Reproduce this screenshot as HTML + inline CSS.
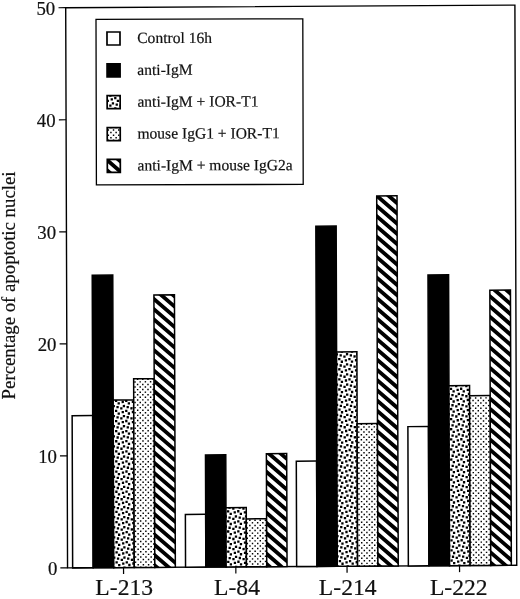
<!DOCTYPE html>
<html><head><meta charset="utf-8"><title>Figure</title>
<style>
html,body{margin:0;padding:0;background:#fff;}
body{width:520px;height:599px;overflow:hidden;}
svg{display:block;}
text{font-family:"Liberation Serif","Times New Roman",serif;fill:#111;stroke:#111;stroke-width:0.2px;}
</style></head><body>
<svg width="520" height="599" viewBox="0 0 520 599">
<defs>
<clipPath id="c1"><rect x="71.1" y="416" width="20.54" height="152.2"/></clipPath>
<clipPath id="c2"><rect x="91.64" y="275.6" width="20.54" height="292.6"/></clipPath>
<clipPath id="c3"><rect x="112.18" y="400.6" width="20.54" height="167.6"/></clipPath>
<clipPath id="c4"><rect x="132.72" y="379.45" width="20.54" height="188.75"/></clipPath>
<clipPath id="c5"><rect x="153.26" y="295.8" width="20.54" height="272.4"/></clipPath>
<clipPath id="c6"><rect x="184" y="515.4" width="20.3" height="52.8"/></clipPath>
<clipPath id="c7"><rect x="204.3" y="456" width="20.3" height="112.2"/></clipPath>
<clipPath id="c8"><rect x="224.6" y="508.9" width="20.3" height="59.3"/></clipPath>
<clipPath id="c9"><rect x="244.9" y="520.25" width="20.3" height="47.95"/></clipPath>
<clipPath id="c10"><rect x="265.2" y="455.1" width="20.3" height="113.1"/></clipPath>
<clipPath id="c11"><rect x="295.1" y="462.8" width="20.32" height="105.4"/></clipPath>
<clipPath id="c12"><rect x="315.42" y="227.9" width="20.32" height="340.3"/></clipPath>
<clipPath id="c13"><rect x="335.74" y="353.8" width="20.32" height="214.4"/></clipPath>
<clipPath id="c14"><rect x="356.06" y="425.65" width="20.32" height="142.55"/></clipPath>
<clipPath id="c15"><rect x="376.38" y="198" width="20.32" height="370.2"/></clipPath>
<clipPath id="c16"><rect x="406.8" y="428.9" width="20.6" height="139.3"/></clipPath>
<clipPath id="c17"><rect x="427.4" y="277.3" width="20.6" height="290.9"/></clipPath>
<clipPath id="c18"><rect x="448" y="388.2" width="20.6" height="180"/></clipPath>
<clipPath id="c19"><rect x="468.6" y="398.3" width="20.6" height="169.9"/></clipPath>
<clipPath id="c20"><rect x="489.2" y="292.9" width="20.6" height="275.3"/></clipPath>
<clipPath id="c21"><rect x="106.95" y="32.24" width="13" height="13"/></clipPath>
<clipPath id="c22"><rect x="106.95" y="64.09" width="13" height="13"/></clipPath>
<clipPath id="c23"><rect x="106.95" y="95.94" width="13" height="13"/></clipPath>
<clipPath id="c24"><rect x="106.95" y="127.79" width="13" height="13"/></clipPath>
<clipPath id="c25"><rect x="106.95" y="159.64" width="13" height="13"/></clipPath>
</defs>
<rect width="520" height="599" fill="#fff"/>
<g transform="matrix(1,-0.0058,0.0033,1,-0.326,0.083)">
<rect x="66" y="8.0" width="449.2" height="560.2" fill="none" stroke="#000" stroke-width="1.4"/>
<rect x="71.1" y="416" width="20.54" height="152.2" fill="#fff" stroke="#000" stroke-width="1.5"/>
<rect x="91.64" y="275.6" width="20.54" height="292.6" fill="#000" stroke="#000" stroke-width="1.5"/>
<rect x="112.18" y="400.6" width="20.54" height="167.6" fill="#fff"/>
<path clip-path="url(#c3)" fill="#000" d="M110.44 401.45h2.3v2.3h-2.3zM111.6 405.5h2.3v2.3h-2.3zM113.95 400.3h2.3v2.3h-2.3zM120.59 401.45h2.3v2.3h-2.3zM116.55 402.9h2.3v2.3h-2.3zM121.75 405.5h2.3v2.3h-2.3zM115.39 406.65h2.3v2.3h-2.3zM119.15 407.8h2.3v2.3h-2.3zM124.1 400.3h2.3v2.3h-2.3zM130.74 401.45h2.3v2.3h-2.3zM126.7 402.9h2.3v2.3h-2.3zM131.9 405.5h2.3v2.3h-2.3zM125.54 406.65h2.3v2.3h-2.3zM129.3 407.8h2.3v2.3h-2.3zM110.44 411.55h2.3v2.3h-2.3zM111.6 415.6h2.3v2.3h-2.3zM113.95 410.4h2.3v2.3h-2.3zM120.59 411.55h2.3v2.3h-2.3zM116.55 413h2.3v2.3h-2.3zM121.75 415.6h2.3v2.3h-2.3zM115.39 416.75h2.3v2.3h-2.3zM119.15 417.9h2.3v2.3h-2.3zM124.1 410.4h2.3v2.3h-2.3zM130.74 411.55h2.3v2.3h-2.3zM126.7 413h2.3v2.3h-2.3zM131.9 415.6h2.3v2.3h-2.3zM125.54 416.75h2.3v2.3h-2.3zM129.3 417.9h2.3v2.3h-2.3zM110.44 421.65h2.3v2.3h-2.3zM111.6 425.7h2.3v2.3h-2.3zM113.95 420.5h2.3v2.3h-2.3zM120.59 421.65h2.3v2.3h-2.3zM116.55 423.1h2.3v2.3h-2.3zM121.75 425.7h2.3v2.3h-2.3zM115.39 426.85h2.3v2.3h-2.3zM119.15 428h2.3v2.3h-2.3zM124.1 420.5h2.3v2.3h-2.3zM130.74 421.65h2.3v2.3h-2.3zM126.7 423.1h2.3v2.3h-2.3zM131.9 425.7h2.3v2.3h-2.3zM125.54 426.85h2.3v2.3h-2.3zM129.3 428h2.3v2.3h-2.3zM110.44 431.75h2.3v2.3h-2.3zM111.6 435.8h2.3v2.3h-2.3zM113.95 430.6h2.3v2.3h-2.3zM120.59 431.75h2.3v2.3h-2.3zM116.55 433.2h2.3v2.3h-2.3zM121.75 435.8h2.3v2.3h-2.3zM115.39 436.95h2.3v2.3h-2.3zM119.15 438.1h2.3v2.3h-2.3zM124.1 430.6h2.3v2.3h-2.3zM130.74 431.75h2.3v2.3h-2.3zM126.7 433.2h2.3v2.3h-2.3zM131.9 435.8h2.3v2.3h-2.3zM125.54 436.95h2.3v2.3h-2.3zM129.3 438.1h2.3v2.3h-2.3zM110.44 441.85h2.3v2.3h-2.3zM111.6 445.9h2.3v2.3h-2.3zM113.95 440.7h2.3v2.3h-2.3zM120.59 441.85h2.3v2.3h-2.3zM116.55 443.3h2.3v2.3h-2.3zM121.75 445.9h2.3v2.3h-2.3zM115.39 447.05h2.3v2.3h-2.3zM119.15 448.2h2.3v2.3h-2.3zM124.1 440.7h2.3v2.3h-2.3zM130.74 441.85h2.3v2.3h-2.3zM126.7 443.3h2.3v2.3h-2.3zM131.9 445.9h2.3v2.3h-2.3zM125.54 447.05h2.3v2.3h-2.3zM129.3 448.2h2.3v2.3h-2.3zM110.44 451.95h2.3v2.3h-2.3zM111.6 456h2.3v2.3h-2.3zM113.95 450.8h2.3v2.3h-2.3zM120.59 451.95h2.3v2.3h-2.3zM116.55 453.4h2.3v2.3h-2.3zM121.75 456h2.3v2.3h-2.3zM115.39 457.15h2.3v2.3h-2.3zM119.15 458.3h2.3v2.3h-2.3zM124.1 450.8h2.3v2.3h-2.3zM130.74 451.95h2.3v2.3h-2.3zM126.7 453.4h2.3v2.3h-2.3zM131.9 456h2.3v2.3h-2.3zM125.54 457.15h2.3v2.3h-2.3zM129.3 458.3h2.3v2.3h-2.3zM110.44 462.05h2.3v2.3h-2.3zM111.6 466.1h2.3v2.3h-2.3zM113.95 460.9h2.3v2.3h-2.3zM120.59 462.05h2.3v2.3h-2.3zM116.55 463.5h2.3v2.3h-2.3zM121.75 466.1h2.3v2.3h-2.3zM115.39 467.25h2.3v2.3h-2.3zM119.15 468.4h2.3v2.3h-2.3zM124.1 460.9h2.3v2.3h-2.3zM130.74 462.05h2.3v2.3h-2.3zM126.7 463.5h2.3v2.3h-2.3zM131.9 466.1h2.3v2.3h-2.3zM125.54 467.25h2.3v2.3h-2.3zM129.3 468.4h2.3v2.3h-2.3zM110.44 472.15h2.3v2.3h-2.3zM111.6 476.2h2.3v2.3h-2.3zM113.95 471h2.3v2.3h-2.3zM120.59 472.15h2.3v2.3h-2.3zM116.55 473.6h2.3v2.3h-2.3zM121.75 476.2h2.3v2.3h-2.3zM115.39 477.35h2.3v2.3h-2.3zM119.15 478.5h2.3v2.3h-2.3zM124.1 471h2.3v2.3h-2.3zM130.74 472.15h2.3v2.3h-2.3zM126.7 473.6h2.3v2.3h-2.3zM131.9 476.2h2.3v2.3h-2.3zM125.54 477.35h2.3v2.3h-2.3zM129.3 478.5h2.3v2.3h-2.3zM110.44 482.25h2.3v2.3h-2.3zM111.6 486.3h2.3v2.3h-2.3zM113.95 481.1h2.3v2.3h-2.3zM120.59 482.25h2.3v2.3h-2.3zM116.55 483.7h2.3v2.3h-2.3zM121.75 486.3h2.3v2.3h-2.3zM115.39 487.45h2.3v2.3h-2.3zM119.15 488.6h2.3v2.3h-2.3zM124.1 481.1h2.3v2.3h-2.3zM130.74 482.25h2.3v2.3h-2.3zM126.7 483.7h2.3v2.3h-2.3zM131.9 486.3h2.3v2.3h-2.3zM125.54 487.45h2.3v2.3h-2.3zM129.3 488.6h2.3v2.3h-2.3zM110.44 492.35h2.3v2.3h-2.3zM111.6 496.4h2.3v2.3h-2.3zM113.95 491.2h2.3v2.3h-2.3zM120.59 492.35h2.3v2.3h-2.3zM116.55 493.8h2.3v2.3h-2.3zM121.75 496.4h2.3v2.3h-2.3zM115.39 497.55h2.3v2.3h-2.3zM119.15 498.7h2.3v2.3h-2.3zM124.1 491.2h2.3v2.3h-2.3zM130.74 492.35h2.3v2.3h-2.3zM126.7 493.8h2.3v2.3h-2.3zM131.9 496.4h2.3v2.3h-2.3zM125.54 497.55h2.3v2.3h-2.3zM129.3 498.7h2.3v2.3h-2.3zM110.44 502.45h2.3v2.3h-2.3zM111.6 506.5h2.3v2.3h-2.3zM113.95 501.3h2.3v2.3h-2.3zM120.59 502.45h2.3v2.3h-2.3zM116.55 503.9h2.3v2.3h-2.3zM121.75 506.5h2.3v2.3h-2.3zM115.39 507.65h2.3v2.3h-2.3zM119.15 508.8h2.3v2.3h-2.3zM124.1 501.3h2.3v2.3h-2.3zM130.74 502.45h2.3v2.3h-2.3zM126.7 503.9h2.3v2.3h-2.3zM131.9 506.5h2.3v2.3h-2.3zM125.54 507.65h2.3v2.3h-2.3zM129.3 508.8h2.3v2.3h-2.3zM110.44 512.55h2.3v2.3h-2.3zM111.6 516.6h2.3v2.3h-2.3zM113.95 511.4h2.3v2.3h-2.3zM120.59 512.55h2.3v2.3h-2.3zM116.55 514h2.3v2.3h-2.3zM121.75 516.6h2.3v2.3h-2.3zM115.39 517.75h2.3v2.3h-2.3zM119.15 518.9h2.3v2.3h-2.3zM124.1 511.4h2.3v2.3h-2.3zM130.74 512.55h2.3v2.3h-2.3zM126.7 514h2.3v2.3h-2.3zM131.9 516.6h2.3v2.3h-2.3zM125.54 517.75h2.3v2.3h-2.3zM129.3 518.9h2.3v2.3h-2.3zM110.44 522.65h2.3v2.3h-2.3zM111.6 526.7h2.3v2.3h-2.3zM113.95 521.5h2.3v2.3h-2.3zM120.59 522.65h2.3v2.3h-2.3zM116.55 524.1h2.3v2.3h-2.3zM121.75 526.7h2.3v2.3h-2.3zM115.39 527.85h2.3v2.3h-2.3zM119.15 529h2.3v2.3h-2.3zM124.1 521.5h2.3v2.3h-2.3zM130.74 522.65h2.3v2.3h-2.3zM126.7 524.1h2.3v2.3h-2.3zM131.9 526.7h2.3v2.3h-2.3zM125.54 527.85h2.3v2.3h-2.3zM129.3 529h2.3v2.3h-2.3zM110.44 532.75h2.3v2.3h-2.3zM111.6 536.8h2.3v2.3h-2.3zM113.95 531.6h2.3v2.3h-2.3zM120.59 532.75h2.3v2.3h-2.3zM116.55 534.2h2.3v2.3h-2.3zM121.75 536.8h2.3v2.3h-2.3zM115.39 537.95h2.3v2.3h-2.3zM119.15 539.1h2.3v2.3h-2.3zM124.1 531.6h2.3v2.3h-2.3zM130.74 532.75h2.3v2.3h-2.3zM126.7 534.2h2.3v2.3h-2.3zM131.9 536.8h2.3v2.3h-2.3zM125.54 537.95h2.3v2.3h-2.3zM129.3 539.1h2.3v2.3h-2.3zM110.44 542.85h2.3v2.3h-2.3zM111.6 546.9h2.3v2.3h-2.3zM113.95 541.7h2.3v2.3h-2.3zM120.59 542.85h2.3v2.3h-2.3zM116.55 544.3h2.3v2.3h-2.3zM121.75 546.9h2.3v2.3h-2.3zM115.39 548.05h2.3v2.3h-2.3zM119.15 549.2h2.3v2.3h-2.3zM124.1 541.7h2.3v2.3h-2.3zM130.74 542.85h2.3v2.3h-2.3zM126.7 544.3h2.3v2.3h-2.3zM131.9 546.9h2.3v2.3h-2.3zM125.54 548.05h2.3v2.3h-2.3zM129.3 549.2h2.3v2.3h-2.3zM110.44 552.95h2.3v2.3h-2.3zM111.6 557h2.3v2.3h-2.3zM113.95 551.8h2.3v2.3h-2.3zM120.59 552.95h2.3v2.3h-2.3zM116.55 554.4h2.3v2.3h-2.3zM121.75 557h2.3v2.3h-2.3zM115.39 558.15h2.3v2.3h-2.3zM119.15 559.3h2.3v2.3h-2.3zM124.1 551.8h2.3v2.3h-2.3zM130.74 552.95h2.3v2.3h-2.3zM126.7 554.4h2.3v2.3h-2.3zM131.9 557h2.3v2.3h-2.3zM125.54 558.15h2.3v2.3h-2.3zM129.3 559.3h2.3v2.3h-2.3zM110.44 563.05h2.3v2.3h-2.3zM111.6 567.1h2.3v2.3h-2.3zM113.95 561.9h2.3v2.3h-2.3zM120.59 563.05h2.3v2.3h-2.3zM116.55 564.5h2.3v2.3h-2.3zM121.75 567.1h2.3v2.3h-2.3zM124.1 561.9h2.3v2.3h-2.3zM130.74 563.05h2.3v2.3h-2.3zM126.7 564.5h2.3v2.3h-2.3zM131.9 567.1h2.3v2.3h-2.3z"/>
<rect x="112.18" y="400.6" width="20.54" height="167.6" fill="none" stroke="#000" stroke-width="1.5"/>
<rect x="132.72" y="379.45" width="20.54" height="188.75" fill="#fff"/>
<path clip-path="url(#c4)" fill="#000" d="M135.93 379.3h1.45v1.45h-1.45zM141.12 379.3h1.45v1.45h-1.45zM146.32 379.3h1.45v1.45h-1.45zM151.53 379.3h1.45v1.45h-1.45zM133.33 381.88h1.45v1.45h-1.45zM135.93 384.45h1.45v1.45h-1.45zM138.53 381.88h1.45v1.45h-1.45zM141.12 384.45h1.45v1.45h-1.45zM143.72 381.88h1.45v1.45h-1.45zM146.32 384.45h1.45v1.45h-1.45zM148.93 381.88h1.45v1.45h-1.45zM151.53 384.45h1.45v1.45h-1.45zM133.33 387.02h1.45v1.45h-1.45zM135.93 389.6h1.45v1.45h-1.45zM138.53 387.02h1.45v1.45h-1.45zM141.12 389.6h1.45v1.45h-1.45zM143.72 387.02h1.45v1.45h-1.45zM146.32 389.6h1.45v1.45h-1.45zM148.93 387.02h1.45v1.45h-1.45zM151.53 389.6h1.45v1.45h-1.45zM133.33 392.18h1.45v1.45h-1.45zM135.93 394.75h1.45v1.45h-1.45zM138.53 392.18h1.45v1.45h-1.45zM141.12 394.75h1.45v1.45h-1.45zM143.72 392.18h1.45v1.45h-1.45zM146.32 394.75h1.45v1.45h-1.45zM148.93 392.18h1.45v1.45h-1.45zM151.53 394.75h1.45v1.45h-1.45zM133.33 397.32h1.45v1.45h-1.45zM135.93 399.9h1.45v1.45h-1.45zM138.53 397.32h1.45v1.45h-1.45zM141.12 399.9h1.45v1.45h-1.45zM143.72 397.32h1.45v1.45h-1.45zM146.32 399.9h1.45v1.45h-1.45zM148.93 397.32h1.45v1.45h-1.45zM151.53 399.9h1.45v1.45h-1.45zM133.33 402.48h1.45v1.45h-1.45zM135.93 405.05h1.45v1.45h-1.45zM138.53 402.48h1.45v1.45h-1.45zM141.12 405.05h1.45v1.45h-1.45zM143.72 402.48h1.45v1.45h-1.45zM146.32 405.05h1.45v1.45h-1.45zM148.93 402.48h1.45v1.45h-1.45zM151.53 405.05h1.45v1.45h-1.45zM133.33 407.62h1.45v1.45h-1.45zM135.93 410.2h1.45v1.45h-1.45zM138.53 407.62h1.45v1.45h-1.45zM141.12 410.2h1.45v1.45h-1.45zM143.72 407.62h1.45v1.45h-1.45zM146.32 410.2h1.45v1.45h-1.45zM148.93 407.62h1.45v1.45h-1.45zM151.53 410.2h1.45v1.45h-1.45zM133.33 412.77h1.45v1.45h-1.45zM135.93 415.35h1.45v1.45h-1.45zM138.53 412.77h1.45v1.45h-1.45zM141.12 415.35h1.45v1.45h-1.45zM143.72 412.77h1.45v1.45h-1.45zM146.32 415.35h1.45v1.45h-1.45zM148.93 412.77h1.45v1.45h-1.45zM151.53 415.35h1.45v1.45h-1.45zM133.33 417.93h1.45v1.45h-1.45zM135.93 420.5h1.45v1.45h-1.45zM138.53 417.93h1.45v1.45h-1.45zM141.12 420.5h1.45v1.45h-1.45zM143.72 417.93h1.45v1.45h-1.45zM146.32 420.5h1.45v1.45h-1.45zM148.93 417.93h1.45v1.45h-1.45zM151.53 420.5h1.45v1.45h-1.45zM133.33 423.07h1.45v1.45h-1.45zM135.93 425.65h1.45v1.45h-1.45zM138.53 423.07h1.45v1.45h-1.45zM141.12 425.65h1.45v1.45h-1.45zM143.72 423.07h1.45v1.45h-1.45zM146.32 425.65h1.45v1.45h-1.45zM148.93 423.07h1.45v1.45h-1.45zM151.53 425.65h1.45v1.45h-1.45zM133.33 428.23h1.45v1.45h-1.45zM135.93 430.8h1.45v1.45h-1.45zM138.53 428.23h1.45v1.45h-1.45zM141.12 430.8h1.45v1.45h-1.45zM143.72 428.23h1.45v1.45h-1.45zM146.32 430.8h1.45v1.45h-1.45zM148.93 428.23h1.45v1.45h-1.45zM151.53 430.8h1.45v1.45h-1.45zM133.33 433.38h1.45v1.45h-1.45zM135.93 435.95h1.45v1.45h-1.45zM138.53 433.38h1.45v1.45h-1.45zM141.12 435.95h1.45v1.45h-1.45zM143.72 433.38h1.45v1.45h-1.45zM146.32 435.95h1.45v1.45h-1.45zM148.93 433.38h1.45v1.45h-1.45zM151.53 435.95h1.45v1.45h-1.45zM133.33 438.52h1.45v1.45h-1.45zM135.93 441.1h1.45v1.45h-1.45zM138.53 438.52h1.45v1.45h-1.45zM141.12 441.1h1.45v1.45h-1.45zM143.72 438.52h1.45v1.45h-1.45zM146.32 441.1h1.45v1.45h-1.45zM148.93 438.52h1.45v1.45h-1.45zM151.53 441.1h1.45v1.45h-1.45zM133.33 443.68h1.45v1.45h-1.45zM135.93 446.25h1.45v1.45h-1.45zM138.53 443.68h1.45v1.45h-1.45zM141.12 446.25h1.45v1.45h-1.45zM143.72 443.68h1.45v1.45h-1.45zM146.32 446.25h1.45v1.45h-1.45zM148.93 443.68h1.45v1.45h-1.45zM151.53 446.25h1.45v1.45h-1.45zM133.33 448.82h1.45v1.45h-1.45zM135.93 451.4h1.45v1.45h-1.45zM138.53 448.82h1.45v1.45h-1.45zM141.12 451.4h1.45v1.45h-1.45zM143.72 448.82h1.45v1.45h-1.45zM146.32 451.4h1.45v1.45h-1.45zM148.93 448.82h1.45v1.45h-1.45zM151.53 451.4h1.45v1.45h-1.45zM133.33 453.98h1.45v1.45h-1.45zM135.93 456.55h1.45v1.45h-1.45zM138.53 453.98h1.45v1.45h-1.45zM141.12 456.55h1.45v1.45h-1.45zM143.72 453.98h1.45v1.45h-1.45zM146.32 456.55h1.45v1.45h-1.45zM148.93 453.98h1.45v1.45h-1.45zM151.53 456.55h1.45v1.45h-1.45zM133.33 459.12h1.45v1.45h-1.45zM135.93 461.7h1.45v1.45h-1.45zM138.53 459.12h1.45v1.45h-1.45zM141.12 461.7h1.45v1.45h-1.45zM143.72 459.12h1.45v1.45h-1.45zM146.32 461.7h1.45v1.45h-1.45zM148.93 459.12h1.45v1.45h-1.45zM151.53 461.7h1.45v1.45h-1.45zM133.33 464.27h1.45v1.45h-1.45zM135.93 466.85h1.45v1.45h-1.45zM138.53 464.27h1.45v1.45h-1.45zM141.12 466.85h1.45v1.45h-1.45zM143.72 464.27h1.45v1.45h-1.45zM146.32 466.85h1.45v1.45h-1.45zM148.93 464.27h1.45v1.45h-1.45zM151.53 466.85h1.45v1.45h-1.45zM133.33 469.43h1.45v1.45h-1.45zM135.93 472h1.45v1.45h-1.45zM138.53 469.43h1.45v1.45h-1.45zM141.12 472h1.45v1.45h-1.45zM143.72 469.43h1.45v1.45h-1.45zM146.32 472h1.45v1.45h-1.45zM148.93 469.43h1.45v1.45h-1.45zM151.53 472h1.45v1.45h-1.45zM133.33 474.57h1.45v1.45h-1.45zM135.93 477.15h1.45v1.45h-1.45zM138.53 474.57h1.45v1.45h-1.45zM141.12 477.15h1.45v1.45h-1.45zM143.72 474.57h1.45v1.45h-1.45zM146.32 477.15h1.45v1.45h-1.45zM148.93 474.57h1.45v1.45h-1.45zM151.53 477.15h1.45v1.45h-1.45zM133.33 479.73h1.45v1.45h-1.45zM135.93 482.3h1.45v1.45h-1.45zM138.53 479.73h1.45v1.45h-1.45zM141.12 482.3h1.45v1.45h-1.45zM143.72 479.73h1.45v1.45h-1.45zM146.32 482.3h1.45v1.45h-1.45zM148.93 479.73h1.45v1.45h-1.45zM151.53 482.3h1.45v1.45h-1.45zM133.33 484.88h1.45v1.45h-1.45zM135.93 487.45h1.45v1.45h-1.45zM138.53 484.88h1.45v1.45h-1.45zM141.12 487.45h1.45v1.45h-1.45zM143.72 484.88h1.45v1.45h-1.45zM146.32 487.45h1.45v1.45h-1.45zM148.93 484.88h1.45v1.45h-1.45zM151.53 487.45h1.45v1.45h-1.45zM133.33 490.02h1.45v1.45h-1.45zM135.93 492.6h1.45v1.45h-1.45zM138.53 490.02h1.45v1.45h-1.45zM141.12 492.6h1.45v1.45h-1.45zM143.72 490.02h1.45v1.45h-1.45zM146.32 492.6h1.45v1.45h-1.45zM148.93 490.02h1.45v1.45h-1.45zM151.53 492.6h1.45v1.45h-1.45zM133.33 495.18h1.45v1.45h-1.45zM135.93 497.75h1.45v1.45h-1.45zM138.53 495.18h1.45v1.45h-1.45zM141.12 497.75h1.45v1.45h-1.45zM143.72 495.18h1.45v1.45h-1.45zM146.32 497.75h1.45v1.45h-1.45zM148.93 495.18h1.45v1.45h-1.45zM151.53 497.75h1.45v1.45h-1.45zM133.33 500.32h1.45v1.45h-1.45zM135.93 502.9h1.45v1.45h-1.45zM138.53 500.32h1.45v1.45h-1.45zM141.12 502.9h1.45v1.45h-1.45zM143.72 500.32h1.45v1.45h-1.45zM146.32 502.9h1.45v1.45h-1.45zM148.93 500.32h1.45v1.45h-1.45zM151.53 502.9h1.45v1.45h-1.45zM133.33 505.48h1.45v1.45h-1.45zM135.93 508.05h1.45v1.45h-1.45zM138.53 505.48h1.45v1.45h-1.45zM141.12 508.05h1.45v1.45h-1.45zM143.72 505.48h1.45v1.45h-1.45zM146.32 508.05h1.45v1.45h-1.45zM148.93 505.48h1.45v1.45h-1.45zM151.53 508.05h1.45v1.45h-1.45zM133.33 510.62h1.45v1.45h-1.45zM135.93 513.2h1.45v1.45h-1.45zM138.53 510.62h1.45v1.45h-1.45zM141.12 513.2h1.45v1.45h-1.45zM143.72 510.62h1.45v1.45h-1.45zM146.32 513.2h1.45v1.45h-1.45zM148.93 510.62h1.45v1.45h-1.45zM151.53 513.2h1.45v1.45h-1.45zM133.33 515.77h1.45v1.45h-1.45zM135.93 518.35h1.45v1.45h-1.45zM138.53 515.77h1.45v1.45h-1.45zM141.12 518.35h1.45v1.45h-1.45zM143.72 515.77h1.45v1.45h-1.45zM146.32 518.35h1.45v1.45h-1.45zM148.93 515.77h1.45v1.45h-1.45zM151.53 518.35h1.45v1.45h-1.45zM133.33 520.93h1.45v1.45h-1.45zM135.93 523.5h1.45v1.45h-1.45zM138.53 520.93h1.45v1.45h-1.45zM141.12 523.5h1.45v1.45h-1.45zM143.72 520.93h1.45v1.45h-1.45zM146.32 523.5h1.45v1.45h-1.45zM148.93 520.93h1.45v1.45h-1.45zM151.53 523.5h1.45v1.45h-1.45zM133.33 526.08h1.45v1.45h-1.45zM135.93 528.65h1.45v1.45h-1.45zM138.53 526.08h1.45v1.45h-1.45zM141.12 528.65h1.45v1.45h-1.45zM143.72 526.08h1.45v1.45h-1.45zM146.32 528.65h1.45v1.45h-1.45zM148.93 526.08h1.45v1.45h-1.45zM151.53 528.65h1.45v1.45h-1.45zM133.33 531.23h1.45v1.45h-1.45zM135.93 533.8h1.45v1.45h-1.45zM138.53 531.23h1.45v1.45h-1.45zM141.12 533.8h1.45v1.45h-1.45zM143.72 531.23h1.45v1.45h-1.45zM146.32 533.8h1.45v1.45h-1.45zM148.93 531.23h1.45v1.45h-1.45zM151.53 533.8h1.45v1.45h-1.45zM133.33 536.38h1.45v1.45h-1.45zM135.93 538.95h1.45v1.45h-1.45zM138.53 536.38h1.45v1.45h-1.45zM141.12 538.95h1.45v1.45h-1.45zM143.72 536.38h1.45v1.45h-1.45zM146.32 538.95h1.45v1.45h-1.45zM148.93 536.38h1.45v1.45h-1.45zM151.53 538.95h1.45v1.45h-1.45zM133.33 541.52h1.45v1.45h-1.45zM135.93 544.1h1.45v1.45h-1.45zM138.53 541.52h1.45v1.45h-1.45zM141.12 544.1h1.45v1.45h-1.45zM143.72 541.52h1.45v1.45h-1.45zM146.32 544.1h1.45v1.45h-1.45zM148.93 541.52h1.45v1.45h-1.45zM151.53 544.1h1.45v1.45h-1.45zM133.33 546.68h1.45v1.45h-1.45zM135.93 549.25h1.45v1.45h-1.45zM138.53 546.68h1.45v1.45h-1.45zM141.12 549.25h1.45v1.45h-1.45zM143.72 546.68h1.45v1.45h-1.45zM146.32 549.25h1.45v1.45h-1.45zM148.93 546.68h1.45v1.45h-1.45zM151.53 549.25h1.45v1.45h-1.45zM133.33 551.83h1.45v1.45h-1.45zM135.93 554.4h1.45v1.45h-1.45zM138.53 551.83h1.45v1.45h-1.45zM141.12 554.4h1.45v1.45h-1.45zM143.72 551.83h1.45v1.45h-1.45zM146.32 554.4h1.45v1.45h-1.45zM148.93 551.83h1.45v1.45h-1.45zM151.53 554.4h1.45v1.45h-1.45zM133.33 556.98h1.45v1.45h-1.45zM135.93 559.55h1.45v1.45h-1.45zM138.53 556.98h1.45v1.45h-1.45zM141.12 559.55h1.45v1.45h-1.45zM143.72 556.98h1.45v1.45h-1.45zM146.32 559.55h1.45v1.45h-1.45zM148.93 556.98h1.45v1.45h-1.45zM151.53 559.55h1.45v1.45h-1.45zM133.33 562.12h1.45v1.45h-1.45zM135.93 564.7h1.45v1.45h-1.45zM138.53 562.12h1.45v1.45h-1.45zM141.12 564.7h1.45v1.45h-1.45zM143.72 562.12h1.45v1.45h-1.45zM146.32 564.7h1.45v1.45h-1.45zM148.93 562.12h1.45v1.45h-1.45zM151.53 564.7h1.45v1.45h-1.45zM133.33 567.27h1.45v1.45h-1.45zM138.53 567.27h1.45v1.45h-1.45zM143.72 567.27h1.45v1.45h-1.45zM148.93 567.27h1.45v1.45h-1.45z"/>
<rect x="132.72" y="379.45" width="20.54" height="188.75" fill="none" stroke="#000" stroke-width="1.5"/>
<rect x="153.26" y="295.8" width="20.54" height="272.4" fill="#fff"/>
<path clip-path="url(#c5)" fill="#000" d="M153.26 276.7L173.8 294.68v5.1L153.26 281.8zM153.26 286.95L173.8 304.93v5.1L153.26 292.05zM153.26 297.2L173.8 315.18v5.1L153.26 302.3zM153.26 307.45L173.8 325.43v5.1L153.26 312.55zM153.26 317.7L173.8 335.68v5.1L153.26 322.8zM153.26 327.95L173.8 345.93v5.1L153.26 333.05zM153.26 338.2L173.8 356.18v5.1L153.26 343.3zM153.26 348.45L173.8 366.43v5.1L153.26 353.55zM153.26 358.7L173.8 376.68v5.1L153.26 363.8zM153.26 368.95L173.8 386.93v5.1L153.26 374.05zM153.26 379.2L173.8 397.18v5.1L153.26 384.3zM153.26 389.45L173.8 407.43v5.1L153.26 394.55zM153.26 399.7L173.8 417.68v5.1L153.26 404.8zM153.26 409.95L173.8 427.93v5.1L153.26 415.05zM153.26 420.2L173.8 438.18v5.1L153.26 425.3zM153.26 430.45L173.8 448.43v5.1L153.26 435.55zM153.26 440.7L173.8 458.68v5.1L153.26 445.8zM153.26 450.95L173.8 468.93v5.1L153.26 456.05zM153.26 461.2L173.8 479.18v5.1L153.26 466.3zM153.26 471.45L173.8 489.43v5.1L153.26 476.55zM153.26 481.7L173.8 499.68v5.1L153.26 486.8zM153.26 491.95L173.8 509.93v5.1L153.26 497.05zM153.26 502.2L173.8 520.18v5.1L153.26 507.3zM153.26 512.45L173.8 530.43v5.1L153.26 517.55zM153.26 522.7L173.8 540.68v5.1L153.26 527.8zM153.26 532.95L173.8 550.93v5.1L153.26 538.05zM153.26 543.2L173.8 561.18v5.1L153.26 548.3zM153.26 553.45L173.8 571.43v5.1L153.26 558.55zM153.26 563.7L173.8 581.68v5.1L153.26 568.8z"/>
<rect x="153.26" y="295.8" width="20.54" height="272.4" fill="none" stroke="#000" stroke-width="1.5"/>
<rect x="184" y="515.4" width="20.3" height="52.8" fill="#fff" stroke="#000" stroke-width="1.5"/>
<rect x="204.3" y="456" width="20.3" height="112.2" fill="#000" stroke="#000" stroke-width="1.5"/>
<rect x="224.6" y="508.9" width="20.3" height="59.3" fill="#fff"/>
<path clip-path="url(#c8)" fill="#000" d="M227.04 507.65h2.3v2.3h-2.3zM230.8 508.8h2.3v2.3h-2.3zM237.19 507.65h2.3v2.3h-2.3zM240.95 508.8h2.3v2.3h-2.3zM223.25 516.6h2.3v2.3h-2.3zM225.6 511.4h2.3v2.3h-2.3zM232.24 512.55h2.3v2.3h-2.3zM228.2 514h2.3v2.3h-2.3zM233.4 516.6h2.3v2.3h-2.3zM227.04 517.75h2.3v2.3h-2.3zM230.8 518.9h2.3v2.3h-2.3zM235.75 511.4h2.3v2.3h-2.3zM242.39 512.55h2.3v2.3h-2.3zM238.35 514h2.3v2.3h-2.3zM243.55 516.6h2.3v2.3h-2.3zM237.19 517.75h2.3v2.3h-2.3zM240.95 518.9h2.3v2.3h-2.3zM223.25 526.7h2.3v2.3h-2.3zM225.6 521.5h2.3v2.3h-2.3zM232.24 522.65h2.3v2.3h-2.3zM228.2 524.1h2.3v2.3h-2.3zM233.4 526.7h2.3v2.3h-2.3zM227.04 527.85h2.3v2.3h-2.3zM230.8 529h2.3v2.3h-2.3zM235.75 521.5h2.3v2.3h-2.3zM242.39 522.65h2.3v2.3h-2.3zM238.35 524.1h2.3v2.3h-2.3zM243.55 526.7h2.3v2.3h-2.3zM237.19 527.85h2.3v2.3h-2.3zM240.95 529h2.3v2.3h-2.3zM223.25 536.8h2.3v2.3h-2.3zM225.6 531.6h2.3v2.3h-2.3zM232.24 532.75h2.3v2.3h-2.3zM228.2 534.2h2.3v2.3h-2.3zM233.4 536.8h2.3v2.3h-2.3zM227.04 537.95h2.3v2.3h-2.3zM230.8 539.1h2.3v2.3h-2.3zM235.75 531.6h2.3v2.3h-2.3zM242.39 532.75h2.3v2.3h-2.3zM238.35 534.2h2.3v2.3h-2.3zM243.55 536.8h2.3v2.3h-2.3zM237.19 537.95h2.3v2.3h-2.3zM240.95 539.1h2.3v2.3h-2.3zM223.25 546.9h2.3v2.3h-2.3zM225.6 541.7h2.3v2.3h-2.3zM232.24 542.85h2.3v2.3h-2.3zM228.2 544.3h2.3v2.3h-2.3zM233.4 546.9h2.3v2.3h-2.3zM227.04 548.05h2.3v2.3h-2.3zM230.8 549.2h2.3v2.3h-2.3zM235.75 541.7h2.3v2.3h-2.3zM242.39 542.85h2.3v2.3h-2.3zM238.35 544.3h2.3v2.3h-2.3zM243.55 546.9h2.3v2.3h-2.3zM237.19 548.05h2.3v2.3h-2.3zM240.95 549.2h2.3v2.3h-2.3zM223.25 557h2.3v2.3h-2.3zM225.6 551.8h2.3v2.3h-2.3zM232.24 552.95h2.3v2.3h-2.3zM228.2 554.4h2.3v2.3h-2.3zM233.4 557h2.3v2.3h-2.3zM227.04 558.15h2.3v2.3h-2.3zM230.8 559.3h2.3v2.3h-2.3zM235.75 551.8h2.3v2.3h-2.3zM242.39 552.95h2.3v2.3h-2.3zM238.35 554.4h2.3v2.3h-2.3zM243.55 557h2.3v2.3h-2.3zM237.19 558.15h2.3v2.3h-2.3zM240.95 559.3h2.3v2.3h-2.3zM223.25 567.1h2.3v2.3h-2.3zM225.6 561.9h2.3v2.3h-2.3zM232.24 563.05h2.3v2.3h-2.3zM228.2 564.5h2.3v2.3h-2.3zM233.4 567.1h2.3v2.3h-2.3zM235.75 561.9h2.3v2.3h-2.3zM242.39 563.05h2.3v2.3h-2.3zM238.35 564.5h2.3v2.3h-2.3zM243.55 567.1h2.3v2.3h-2.3z"/>
<rect x="224.6" y="508.9" width="20.3" height="59.3" fill="none" stroke="#000" stroke-width="1.5"/>
<rect x="244.9" y="520.25" width="20.3" height="47.95" fill="#fff"/>
<path clip-path="url(#c9)" fill="#000" d="M245.12 523.5h1.45v1.45h-1.45zM247.72 520.93h1.45v1.45h-1.45zM250.32 523.5h1.45v1.45h-1.45zM252.93 520.93h1.45v1.45h-1.45zM255.53 523.5h1.45v1.45h-1.45zM258.12 520.93h1.45v1.45h-1.45zM260.73 523.5h1.45v1.45h-1.45zM263.32 520.93h1.45v1.45h-1.45zM245.12 528.65h1.45v1.45h-1.45zM247.72 526.08h1.45v1.45h-1.45zM250.32 528.65h1.45v1.45h-1.45zM252.93 526.08h1.45v1.45h-1.45zM255.53 528.65h1.45v1.45h-1.45zM258.12 526.08h1.45v1.45h-1.45zM260.73 528.65h1.45v1.45h-1.45zM263.32 526.08h1.45v1.45h-1.45zM245.12 533.8h1.45v1.45h-1.45zM247.72 531.23h1.45v1.45h-1.45zM250.32 533.8h1.45v1.45h-1.45zM252.93 531.23h1.45v1.45h-1.45zM255.53 533.8h1.45v1.45h-1.45zM258.12 531.23h1.45v1.45h-1.45zM260.73 533.8h1.45v1.45h-1.45zM263.32 531.23h1.45v1.45h-1.45zM245.12 538.95h1.45v1.45h-1.45zM247.72 536.38h1.45v1.45h-1.45zM250.32 538.95h1.45v1.45h-1.45zM252.93 536.38h1.45v1.45h-1.45zM255.53 538.95h1.45v1.45h-1.45zM258.12 536.38h1.45v1.45h-1.45zM260.73 538.95h1.45v1.45h-1.45zM263.32 536.38h1.45v1.45h-1.45zM245.12 544.1h1.45v1.45h-1.45zM247.72 541.52h1.45v1.45h-1.45zM250.32 544.1h1.45v1.45h-1.45zM252.93 541.52h1.45v1.45h-1.45zM255.53 544.1h1.45v1.45h-1.45zM258.12 541.52h1.45v1.45h-1.45zM260.73 544.1h1.45v1.45h-1.45zM263.32 541.52h1.45v1.45h-1.45zM245.12 549.25h1.45v1.45h-1.45zM247.72 546.68h1.45v1.45h-1.45zM250.32 549.25h1.45v1.45h-1.45zM252.93 546.68h1.45v1.45h-1.45zM255.53 549.25h1.45v1.45h-1.45zM258.12 546.68h1.45v1.45h-1.45zM260.73 549.25h1.45v1.45h-1.45zM263.32 546.68h1.45v1.45h-1.45zM245.12 554.4h1.45v1.45h-1.45zM247.72 551.83h1.45v1.45h-1.45zM250.32 554.4h1.45v1.45h-1.45zM252.93 551.83h1.45v1.45h-1.45zM255.53 554.4h1.45v1.45h-1.45zM258.12 551.83h1.45v1.45h-1.45zM260.73 554.4h1.45v1.45h-1.45zM263.32 551.83h1.45v1.45h-1.45zM245.12 559.55h1.45v1.45h-1.45zM247.72 556.98h1.45v1.45h-1.45zM250.32 559.55h1.45v1.45h-1.45zM252.93 556.98h1.45v1.45h-1.45zM255.53 559.55h1.45v1.45h-1.45zM258.12 556.98h1.45v1.45h-1.45zM260.73 559.55h1.45v1.45h-1.45zM263.32 556.98h1.45v1.45h-1.45zM245.12 564.7h1.45v1.45h-1.45zM247.72 562.12h1.45v1.45h-1.45zM250.32 564.7h1.45v1.45h-1.45zM252.93 562.12h1.45v1.45h-1.45zM255.53 564.7h1.45v1.45h-1.45zM258.12 562.12h1.45v1.45h-1.45zM260.73 564.7h1.45v1.45h-1.45zM263.32 562.12h1.45v1.45h-1.45zM247.72 567.27h1.45v1.45h-1.45zM252.93 567.27h1.45v1.45h-1.45zM258.12 567.27h1.45v1.45h-1.45zM263.32 567.27h1.45v1.45h-1.45z"/>
<rect x="244.9" y="520.25" width="20.3" height="47.95" fill="none" stroke="#000" stroke-width="1.5"/>
<rect x="265.2" y="455.1" width="20.3" height="113.1" fill="#fff"/>
<path clip-path="url(#c10)" fill="#000" d="M265.2 440.06L285.5 457.83v5.1L265.2 445.16zM265.2 450.31L285.5 468.08v5.1L265.2 455.41zM265.2 460.56L285.5 478.33v5.1L265.2 465.66zM265.2 470.81L285.5 488.58v5.1L265.2 475.91zM265.2 481.06L285.5 498.83v5.1L265.2 486.16zM265.2 491.31L285.5 509.08v5.1L265.2 496.41zM265.2 501.56L285.5 519.33v5.1L265.2 506.66zM265.2 511.81L285.5 529.58v5.1L265.2 516.91zM265.2 522.06L285.5 539.83v5.1L265.2 527.16zM265.2 532.31L285.5 550.08v5.1L265.2 537.41zM265.2 542.56L285.5 560.33v5.1L265.2 547.66zM265.2 552.81L285.5 570.58v5.1L265.2 557.91zM265.2 563.06L285.5 580.83v5.1L265.2 568.16z"/>
<rect x="265.2" y="455.1" width="20.3" height="113.1" fill="none" stroke="#000" stroke-width="1.5"/>
<rect x="295.1" y="462.8" width="20.32" height="105.4" fill="#fff" stroke="#000" stroke-width="1.5"/>
<rect x="315.42" y="227.9" width="20.32" height="340.3" fill="#000" stroke="#000" stroke-width="1.5"/>
<rect x="335.74" y="353.8" width="20.32" height="214.4" fill="#fff"/>
<path clip-path="url(#c13)" fill="#000" d="M334.9 355h2.3v2.3h-2.3zM339.85 352.4h2.3v2.3h-2.3zM345.05 355h2.3v2.3h-2.3zM338.69 356.15h2.3v2.3h-2.3zM342.45 357.3h2.3v2.3h-2.3zM350 352.4h2.3v2.3h-2.3zM355.2 355h2.3v2.3h-2.3zM348.84 356.15h2.3v2.3h-2.3zM352.6 357.3h2.3v2.3h-2.3zM333.74 361.05h2.3v2.3h-2.3zM334.9 365.1h2.3v2.3h-2.3zM337.25 359.9h2.3v2.3h-2.3zM343.89 361.05h2.3v2.3h-2.3zM339.85 362.5h2.3v2.3h-2.3zM345.05 365.1h2.3v2.3h-2.3zM338.69 366.25h2.3v2.3h-2.3zM342.45 367.4h2.3v2.3h-2.3zM347.4 359.9h2.3v2.3h-2.3zM354.04 361.05h2.3v2.3h-2.3zM350 362.5h2.3v2.3h-2.3zM355.2 365.1h2.3v2.3h-2.3zM348.84 366.25h2.3v2.3h-2.3zM352.6 367.4h2.3v2.3h-2.3zM333.74 371.15h2.3v2.3h-2.3zM334.9 375.2h2.3v2.3h-2.3zM337.25 370h2.3v2.3h-2.3zM343.89 371.15h2.3v2.3h-2.3zM339.85 372.6h2.3v2.3h-2.3zM345.05 375.2h2.3v2.3h-2.3zM338.69 376.35h2.3v2.3h-2.3zM342.45 377.5h2.3v2.3h-2.3zM347.4 370h2.3v2.3h-2.3zM354.04 371.15h2.3v2.3h-2.3zM350 372.6h2.3v2.3h-2.3zM355.2 375.2h2.3v2.3h-2.3zM348.84 376.35h2.3v2.3h-2.3zM352.6 377.5h2.3v2.3h-2.3zM333.74 381.25h2.3v2.3h-2.3zM334.9 385.3h2.3v2.3h-2.3zM337.25 380.1h2.3v2.3h-2.3zM343.89 381.25h2.3v2.3h-2.3zM339.85 382.7h2.3v2.3h-2.3zM345.05 385.3h2.3v2.3h-2.3zM338.69 386.45h2.3v2.3h-2.3zM342.45 387.6h2.3v2.3h-2.3zM347.4 380.1h2.3v2.3h-2.3zM354.04 381.25h2.3v2.3h-2.3zM350 382.7h2.3v2.3h-2.3zM355.2 385.3h2.3v2.3h-2.3zM348.84 386.45h2.3v2.3h-2.3zM352.6 387.6h2.3v2.3h-2.3zM333.74 391.35h2.3v2.3h-2.3zM334.9 395.4h2.3v2.3h-2.3zM337.25 390.2h2.3v2.3h-2.3zM343.89 391.35h2.3v2.3h-2.3zM339.85 392.8h2.3v2.3h-2.3zM345.05 395.4h2.3v2.3h-2.3zM338.69 396.55h2.3v2.3h-2.3zM342.45 397.7h2.3v2.3h-2.3zM347.4 390.2h2.3v2.3h-2.3zM354.04 391.35h2.3v2.3h-2.3zM350 392.8h2.3v2.3h-2.3zM355.2 395.4h2.3v2.3h-2.3zM348.84 396.55h2.3v2.3h-2.3zM352.6 397.7h2.3v2.3h-2.3zM333.74 401.45h2.3v2.3h-2.3zM334.9 405.5h2.3v2.3h-2.3zM337.25 400.3h2.3v2.3h-2.3zM343.89 401.45h2.3v2.3h-2.3zM339.85 402.9h2.3v2.3h-2.3zM345.05 405.5h2.3v2.3h-2.3zM338.69 406.65h2.3v2.3h-2.3zM342.45 407.8h2.3v2.3h-2.3zM347.4 400.3h2.3v2.3h-2.3zM354.04 401.45h2.3v2.3h-2.3zM350 402.9h2.3v2.3h-2.3zM355.2 405.5h2.3v2.3h-2.3zM348.84 406.65h2.3v2.3h-2.3zM352.6 407.8h2.3v2.3h-2.3zM333.74 411.55h2.3v2.3h-2.3zM334.9 415.6h2.3v2.3h-2.3zM337.25 410.4h2.3v2.3h-2.3zM343.89 411.55h2.3v2.3h-2.3zM339.85 413h2.3v2.3h-2.3zM345.05 415.6h2.3v2.3h-2.3zM338.69 416.75h2.3v2.3h-2.3zM342.45 417.9h2.3v2.3h-2.3zM347.4 410.4h2.3v2.3h-2.3zM354.04 411.55h2.3v2.3h-2.3zM350 413h2.3v2.3h-2.3zM355.2 415.6h2.3v2.3h-2.3zM348.84 416.75h2.3v2.3h-2.3zM352.6 417.9h2.3v2.3h-2.3zM333.74 421.65h2.3v2.3h-2.3zM334.9 425.7h2.3v2.3h-2.3zM337.25 420.5h2.3v2.3h-2.3zM343.89 421.65h2.3v2.3h-2.3zM339.85 423.1h2.3v2.3h-2.3zM345.05 425.7h2.3v2.3h-2.3zM338.69 426.85h2.3v2.3h-2.3zM342.45 428h2.3v2.3h-2.3zM347.4 420.5h2.3v2.3h-2.3zM354.04 421.65h2.3v2.3h-2.3zM350 423.1h2.3v2.3h-2.3zM355.2 425.7h2.3v2.3h-2.3zM348.84 426.85h2.3v2.3h-2.3zM352.6 428h2.3v2.3h-2.3zM333.74 431.75h2.3v2.3h-2.3zM334.9 435.8h2.3v2.3h-2.3zM337.25 430.6h2.3v2.3h-2.3zM343.89 431.75h2.3v2.3h-2.3zM339.85 433.2h2.3v2.3h-2.3zM345.05 435.8h2.3v2.3h-2.3zM338.69 436.95h2.3v2.3h-2.3zM342.45 438.1h2.3v2.3h-2.3zM347.4 430.6h2.3v2.3h-2.3zM354.04 431.75h2.3v2.3h-2.3zM350 433.2h2.3v2.3h-2.3zM355.2 435.8h2.3v2.3h-2.3zM348.84 436.95h2.3v2.3h-2.3zM352.6 438.1h2.3v2.3h-2.3zM333.74 441.85h2.3v2.3h-2.3zM334.9 445.9h2.3v2.3h-2.3zM337.25 440.7h2.3v2.3h-2.3zM343.89 441.85h2.3v2.3h-2.3zM339.85 443.3h2.3v2.3h-2.3zM345.05 445.9h2.3v2.3h-2.3zM338.69 447.05h2.3v2.3h-2.3zM342.45 448.2h2.3v2.3h-2.3zM347.4 440.7h2.3v2.3h-2.3zM354.04 441.85h2.3v2.3h-2.3zM350 443.3h2.3v2.3h-2.3zM355.2 445.9h2.3v2.3h-2.3zM348.84 447.05h2.3v2.3h-2.3zM352.6 448.2h2.3v2.3h-2.3zM333.74 451.95h2.3v2.3h-2.3zM334.9 456h2.3v2.3h-2.3zM337.25 450.8h2.3v2.3h-2.3zM343.89 451.95h2.3v2.3h-2.3zM339.85 453.4h2.3v2.3h-2.3zM345.05 456h2.3v2.3h-2.3zM338.69 457.15h2.3v2.3h-2.3zM342.45 458.3h2.3v2.3h-2.3zM347.4 450.8h2.3v2.3h-2.3zM354.04 451.95h2.3v2.3h-2.3zM350 453.4h2.3v2.3h-2.3zM355.2 456h2.3v2.3h-2.3zM348.84 457.15h2.3v2.3h-2.3zM352.6 458.3h2.3v2.3h-2.3zM333.74 462.05h2.3v2.3h-2.3zM334.9 466.1h2.3v2.3h-2.3zM337.25 460.9h2.3v2.3h-2.3zM343.89 462.05h2.3v2.3h-2.3zM339.85 463.5h2.3v2.3h-2.3zM345.05 466.1h2.3v2.3h-2.3zM338.69 467.25h2.3v2.3h-2.3zM342.45 468.4h2.3v2.3h-2.3zM347.4 460.9h2.3v2.3h-2.3zM354.04 462.05h2.3v2.3h-2.3zM350 463.5h2.3v2.3h-2.3zM355.2 466.1h2.3v2.3h-2.3zM348.84 467.25h2.3v2.3h-2.3zM352.6 468.4h2.3v2.3h-2.3zM333.74 472.15h2.3v2.3h-2.3zM334.9 476.2h2.3v2.3h-2.3zM337.25 471h2.3v2.3h-2.3zM343.89 472.15h2.3v2.3h-2.3zM339.85 473.6h2.3v2.3h-2.3zM345.05 476.2h2.3v2.3h-2.3zM338.69 477.35h2.3v2.3h-2.3zM342.45 478.5h2.3v2.3h-2.3zM347.4 471h2.3v2.3h-2.3zM354.04 472.15h2.3v2.3h-2.3zM350 473.6h2.3v2.3h-2.3zM355.2 476.2h2.3v2.3h-2.3zM348.84 477.35h2.3v2.3h-2.3zM352.6 478.5h2.3v2.3h-2.3zM333.74 482.25h2.3v2.3h-2.3zM334.9 486.3h2.3v2.3h-2.3zM337.25 481.1h2.3v2.3h-2.3zM343.89 482.25h2.3v2.3h-2.3zM339.85 483.7h2.3v2.3h-2.3zM345.05 486.3h2.3v2.3h-2.3zM338.69 487.45h2.3v2.3h-2.3zM342.45 488.6h2.3v2.3h-2.3zM347.4 481.1h2.3v2.3h-2.3zM354.04 482.25h2.3v2.3h-2.3zM350 483.7h2.3v2.3h-2.3zM355.2 486.3h2.3v2.3h-2.3zM348.84 487.45h2.3v2.3h-2.3zM352.6 488.6h2.3v2.3h-2.3zM333.74 492.35h2.3v2.3h-2.3zM334.9 496.4h2.3v2.3h-2.3zM337.25 491.2h2.3v2.3h-2.3zM343.89 492.35h2.3v2.3h-2.3zM339.85 493.8h2.3v2.3h-2.3zM345.05 496.4h2.3v2.3h-2.3zM338.69 497.55h2.3v2.3h-2.3zM342.45 498.7h2.3v2.3h-2.3zM347.4 491.2h2.3v2.3h-2.3zM354.04 492.35h2.3v2.3h-2.3zM350 493.8h2.3v2.3h-2.3zM355.2 496.4h2.3v2.3h-2.3zM348.84 497.55h2.3v2.3h-2.3zM352.6 498.7h2.3v2.3h-2.3zM333.74 502.45h2.3v2.3h-2.3zM334.9 506.5h2.3v2.3h-2.3zM337.25 501.3h2.3v2.3h-2.3zM343.89 502.45h2.3v2.3h-2.3zM339.85 503.9h2.3v2.3h-2.3zM345.05 506.5h2.3v2.3h-2.3zM338.69 507.65h2.3v2.3h-2.3zM342.45 508.8h2.3v2.3h-2.3zM347.4 501.3h2.3v2.3h-2.3zM354.04 502.45h2.3v2.3h-2.3zM350 503.9h2.3v2.3h-2.3zM355.2 506.5h2.3v2.3h-2.3zM348.84 507.65h2.3v2.3h-2.3zM352.6 508.8h2.3v2.3h-2.3zM333.74 512.55h2.3v2.3h-2.3zM334.9 516.6h2.3v2.3h-2.3zM337.25 511.4h2.3v2.3h-2.3zM343.89 512.55h2.3v2.3h-2.3zM339.85 514h2.3v2.3h-2.3zM345.05 516.6h2.3v2.3h-2.3zM338.69 517.75h2.3v2.3h-2.3zM342.45 518.9h2.3v2.3h-2.3zM347.4 511.4h2.3v2.3h-2.3zM354.04 512.55h2.3v2.3h-2.3zM350 514h2.3v2.3h-2.3zM355.2 516.6h2.3v2.3h-2.3zM348.84 517.75h2.3v2.3h-2.3zM352.6 518.9h2.3v2.3h-2.3zM333.74 522.65h2.3v2.3h-2.3zM334.9 526.7h2.3v2.3h-2.3zM337.25 521.5h2.3v2.3h-2.3zM343.89 522.65h2.3v2.3h-2.3zM339.85 524.1h2.3v2.3h-2.3zM345.05 526.7h2.3v2.3h-2.3zM338.69 527.85h2.3v2.3h-2.3zM342.45 529h2.3v2.3h-2.3zM347.4 521.5h2.3v2.3h-2.3zM354.04 522.65h2.3v2.3h-2.3zM350 524.1h2.3v2.3h-2.3zM355.2 526.7h2.3v2.3h-2.3zM348.84 527.85h2.3v2.3h-2.3zM352.6 529h2.3v2.3h-2.3zM333.74 532.75h2.3v2.3h-2.3zM334.9 536.8h2.3v2.3h-2.3zM337.25 531.6h2.3v2.3h-2.3zM343.89 532.75h2.3v2.3h-2.3zM339.85 534.2h2.3v2.3h-2.3zM345.05 536.8h2.3v2.3h-2.3zM338.69 537.95h2.3v2.3h-2.3zM342.45 539.1h2.3v2.3h-2.3zM347.4 531.6h2.3v2.3h-2.3zM354.04 532.75h2.3v2.3h-2.3zM350 534.2h2.3v2.3h-2.3zM355.2 536.8h2.3v2.3h-2.3zM348.84 537.95h2.3v2.3h-2.3zM352.6 539.1h2.3v2.3h-2.3zM333.74 542.85h2.3v2.3h-2.3zM334.9 546.9h2.3v2.3h-2.3zM337.25 541.7h2.3v2.3h-2.3zM343.89 542.85h2.3v2.3h-2.3zM339.85 544.3h2.3v2.3h-2.3zM345.05 546.9h2.3v2.3h-2.3zM338.69 548.05h2.3v2.3h-2.3zM342.45 549.2h2.3v2.3h-2.3zM347.4 541.7h2.3v2.3h-2.3zM354.04 542.85h2.3v2.3h-2.3zM350 544.3h2.3v2.3h-2.3zM355.2 546.9h2.3v2.3h-2.3zM348.84 548.05h2.3v2.3h-2.3zM352.6 549.2h2.3v2.3h-2.3zM333.74 552.95h2.3v2.3h-2.3zM334.9 557h2.3v2.3h-2.3zM337.25 551.8h2.3v2.3h-2.3zM343.89 552.95h2.3v2.3h-2.3zM339.85 554.4h2.3v2.3h-2.3zM345.05 557h2.3v2.3h-2.3zM338.69 558.15h2.3v2.3h-2.3zM342.45 559.3h2.3v2.3h-2.3zM347.4 551.8h2.3v2.3h-2.3zM354.04 552.95h2.3v2.3h-2.3zM350 554.4h2.3v2.3h-2.3zM355.2 557h2.3v2.3h-2.3zM348.84 558.15h2.3v2.3h-2.3zM352.6 559.3h2.3v2.3h-2.3zM333.74 563.05h2.3v2.3h-2.3zM334.9 567.1h2.3v2.3h-2.3zM337.25 561.9h2.3v2.3h-2.3zM343.89 563.05h2.3v2.3h-2.3zM339.85 564.5h2.3v2.3h-2.3zM345.05 567.1h2.3v2.3h-2.3zM347.4 561.9h2.3v2.3h-2.3zM354.04 563.05h2.3v2.3h-2.3zM350 564.5h2.3v2.3h-2.3zM355.2 567.1h2.3v2.3h-2.3z"/>
<rect x="335.74" y="353.8" width="20.32" height="214.4" fill="none" stroke="#000" stroke-width="1.5"/>
<rect x="356.06" y="425.65" width="20.32" height="142.55" fill="#fff"/>
<path clip-path="url(#c14)" fill="#000" d="M359.52 425.65h1.45v1.45h-1.45zM364.73 425.65h1.45v1.45h-1.45zM369.93 425.65h1.45v1.45h-1.45zM375.12 425.65h1.45v1.45h-1.45zM356.92 428.23h1.45v1.45h-1.45zM359.52 430.8h1.45v1.45h-1.45zM362.12 428.23h1.45v1.45h-1.45zM364.73 430.8h1.45v1.45h-1.45zM367.32 428.23h1.45v1.45h-1.45zM369.93 430.8h1.45v1.45h-1.45zM372.52 428.23h1.45v1.45h-1.45zM375.12 430.8h1.45v1.45h-1.45zM356.92 433.38h1.45v1.45h-1.45zM359.52 435.95h1.45v1.45h-1.45zM362.12 433.38h1.45v1.45h-1.45zM364.73 435.95h1.45v1.45h-1.45zM367.32 433.38h1.45v1.45h-1.45zM369.93 435.95h1.45v1.45h-1.45zM372.52 433.38h1.45v1.45h-1.45zM375.12 435.95h1.45v1.45h-1.45zM356.92 438.52h1.45v1.45h-1.45zM359.52 441.1h1.45v1.45h-1.45zM362.12 438.52h1.45v1.45h-1.45zM364.73 441.1h1.45v1.45h-1.45zM367.32 438.52h1.45v1.45h-1.45zM369.93 441.1h1.45v1.45h-1.45zM372.52 438.52h1.45v1.45h-1.45zM375.12 441.1h1.45v1.45h-1.45zM356.92 443.68h1.45v1.45h-1.45zM359.52 446.25h1.45v1.45h-1.45zM362.12 443.68h1.45v1.45h-1.45zM364.73 446.25h1.45v1.45h-1.45zM367.32 443.68h1.45v1.45h-1.45zM369.93 446.25h1.45v1.45h-1.45zM372.52 443.68h1.45v1.45h-1.45zM375.12 446.25h1.45v1.45h-1.45zM356.92 448.82h1.45v1.45h-1.45zM359.52 451.4h1.45v1.45h-1.45zM362.12 448.82h1.45v1.45h-1.45zM364.73 451.4h1.45v1.45h-1.45zM367.32 448.82h1.45v1.45h-1.45zM369.93 451.4h1.45v1.45h-1.45zM372.52 448.82h1.45v1.45h-1.45zM375.12 451.4h1.45v1.45h-1.45zM356.92 453.98h1.45v1.45h-1.45zM359.52 456.55h1.45v1.45h-1.45zM362.12 453.98h1.45v1.45h-1.45zM364.73 456.55h1.45v1.45h-1.45zM367.32 453.98h1.45v1.45h-1.45zM369.93 456.55h1.45v1.45h-1.45zM372.52 453.98h1.45v1.45h-1.45zM375.12 456.55h1.45v1.45h-1.45zM356.92 459.12h1.45v1.45h-1.45zM359.52 461.7h1.45v1.45h-1.45zM362.12 459.12h1.45v1.45h-1.45zM364.73 461.7h1.45v1.45h-1.45zM367.32 459.12h1.45v1.45h-1.45zM369.93 461.7h1.45v1.45h-1.45zM372.52 459.12h1.45v1.45h-1.45zM375.12 461.7h1.45v1.45h-1.45zM356.92 464.27h1.45v1.45h-1.45zM359.52 466.85h1.45v1.45h-1.45zM362.12 464.27h1.45v1.45h-1.45zM364.73 466.85h1.45v1.45h-1.45zM367.32 464.27h1.45v1.45h-1.45zM369.93 466.85h1.45v1.45h-1.45zM372.52 464.27h1.45v1.45h-1.45zM375.12 466.85h1.45v1.45h-1.45zM356.92 469.43h1.45v1.45h-1.45zM359.52 472h1.45v1.45h-1.45zM362.12 469.43h1.45v1.45h-1.45zM364.73 472h1.45v1.45h-1.45zM367.32 469.43h1.45v1.45h-1.45zM369.93 472h1.45v1.45h-1.45zM372.52 469.43h1.45v1.45h-1.45zM375.12 472h1.45v1.45h-1.45zM356.92 474.57h1.45v1.45h-1.45zM359.52 477.15h1.45v1.45h-1.45zM362.12 474.57h1.45v1.45h-1.45zM364.73 477.15h1.45v1.45h-1.45zM367.32 474.57h1.45v1.45h-1.45zM369.93 477.15h1.45v1.45h-1.45zM372.52 474.57h1.45v1.45h-1.45zM375.12 477.15h1.45v1.45h-1.45zM356.92 479.73h1.45v1.45h-1.45zM359.52 482.3h1.45v1.45h-1.45zM362.12 479.73h1.45v1.45h-1.45zM364.73 482.3h1.45v1.45h-1.45zM367.32 479.73h1.45v1.45h-1.45zM369.93 482.3h1.45v1.45h-1.45zM372.52 479.73h1.45v1.45h-1.45zM375.12 482.3h1.45v1.45h-1.45zM356.92 484.88h1.45v1.45h-1.45zM359.52 487.45h1.45v1.45h-1.45zM362.12 484.88h1.45v1.45h-1.45zM364.73 487.45h1.45v1.45h-1.45zM367.32 484.88h1.45v1.45h-1.45zM369.93 487.45h1.45v1.45h-1.45zM372.52 484.88h1.45v1.45h-1.45zM375.12 487.45h1.45v1.45h-1.45zM356.92 490.02h1.45v1.45h-1.45zM359.52 492.6h1.45v1.45h-1.45zM362.12 490.02h1.45v1.45h-1.45zM364.73 492.6h1.45v1.45h-1.45zM367.32 490.02h1.45v1.45h-1.45zM369.93 492.6h1.45v1.45h-1.45zM372.52 490.02h1.45v1.45h-1.45zM375.12 492.6h1.45v1.45h-1.45zM356.92 495.18h1.45v1.45h-1.45zM359.52 497.75h1.45v1.45h-1.45zM362.12 495.18h1.45v1.45h-1.45zM364.73 497.75h1.45v1.45h-1.45zM367.32 495.18h1.45v1.45h-1.45zM369.93 497.75h1.45v1.45h-1.45zM372.52 495.18h1.45v1.45h-1.45zM375.12 497.75h1.45v1.45h-1.45zM356.92 500.32h1.45v1.45h-1.45zM359.52 502.9h1.45v1.45h-1.45zM362.12 500.32h1.45v1.45h-1.45zM364.73 502.9h1.45v1.45h-1.45zM367.32 500.32h1.45v1.45h-1.45zM369.93 502.9h1.45v1.45h-1.45zM372.52 500.32h1.45v1.45h-1.45zM375.12 502.9h1.45v1.45h-1.45zM356.92 505.48h1.45v1.45h-1.45zM359.52 508.05h1.45v1.45h-1.45zM362.12 505.48h1.45v1.45h-1.45zM364.73 508.05h1.45v1.45h-1.45zM367.32 505.48h1.45v1.45h-1.45zM369.93 508.05h1.45v1.45h-1.45zM372.52 505.48h1.45v1.45h-1.45zM375.12 508.05h1.45v1.45h-1.45zM356.92 510.62h1.45v1.45h-1.45zM359.52 513.2h1.45v1.45h-1.45zM362.12 510.62h1.45v1.45h-1.45zM364.73 513.2h1.45v1.45h-1.45zM367.32 510.62h1.45v1.45h-1.45zM369.93 513.2h1.45v1.45h-1.45zM372.52 510.62h1.45v1.45h-1.45zM375.12 513.2h1.45v1.45h-1.45zM356.92 515.77h1.45v1.45h-1.45zM359.52 518.35h1.45v1.45h-1.45zM362.12 515.77h1.45v1.45h-1.45zM364.73 518.35h1.45v1.45h-1.45zM367.32 515.77h1.45v1.45h-1.45zM369.93 518.35h1.45v1.45h-1.45zM372.52 515.77h1.45v1.45h-1.45zM375.12 518.35h1.45v1.45h-1.45zM356.92 520.93h1.45v1.45h-1.45zM359.52 523.5h1.45v1.45h-1.45zM362.12 520.93h1.45v1.45h-1.45zM364.73 523.5h1.45v1.45h-1.45zM367.32 520.93h1.45v1.45h-1.45zM369.93 523.5h1.45v1.45h-1.45zM372.52 520.93h1.45v1.45h-1.45zM375.12 523.5h1.45v1.45h-1.45zM356.92 526.08h1.45v1.45h-1.45zM359.52 528.65h1.45v1.45h-1.45zM362.12 526.08h1.45v1.45h-1.45zM364.73 528.65h1.45v1.45h-1.45zM367.32 526.08h1.45v1.45h-1.45zM369.93 528.65h1.45v1.45h-1.45zM372.52 526.08h1.45v1.45h-1.45zM375.12 528.65h1.45v1.45h-1.45zM356.92 531.23h1.45v1.45h-1.45zM359.52 533.8h1.45v1.45h-1.45zM362.12 531.23h1.45v1.45h-1.45zM364.73 533.8h1.45v1.45h-1.45zM367.32 531.23h1.45v1.45h-1.45zM369.93 533.8h1.45v1.45h-1.45zM372.52 531.23h1.45v1.45h-1.45zM375.12 533.8h1.45v1.45h-1.45zM356.92 536.38h1.45v1.45h-1.45zM359.52 538.95h1.45v1.45h-1.45zM362.12 536.38h1.45v1.45h-1.45zM364.73 538.95h1.45v1.45h-1.45zM367.32 536.38h1.45v1.45h-1.45zM369.93 538.95h1.45v1.45h-1.45zM372.52 536.38h1.45v1.45h-1.45zM375.12 538.95h1.45v1.45h-1.45zM356.92 541.52h1.45v1.45h-1.45zM359.52 544.1h1.45v1.45h-1.45zM362.12 541.52h1.45v1.45h-1.45zM364.73 544.1h1.45v1.45h-1.45zM367.32 541.52h1.45v1.45h-1.45zM369.93 544.1h1.45v1.45h-1.45zM372.52 541.52h1.45v1.45h-1.45zM375.12 544.1h1.45v1.45h-1.45zM356.92 546.68h1.45v1.45h-1.45zM359.52 549.25h1.45v1.45h-1.45zM362.12 546.68h1.45v1.45h-1.45zM364.73 549.25h1.45v1.45h-1.45zM367.32 546.68h1.45v1.45h-1.45zM369.93 549.25h1.45v1.45h-1.45zM372.52 546.68h1.45v1.45h-1.45zM375.12 549.25h1.45v1.45h-1.45zM356.92 551.83h1.45v1.45h-1.45zM359.52 554.4h1.45v1.45h-1.45zM362.12 551.83h1.45v1.45h-1.45zM364.73 554.4h1.45v1.45h-1.45zM367.32 551.83h1.45v1.45h-1.45zM369.93 554.4h1.45v1.45h-1.45zM372.52 551.83h1.45v1.45h-1.45zM375.12 554.4h1.45v1.45h-1.45zM356.92 556.98h1.45v1.45h-1.45zM359.52 559.55h1.45v1.45h-1.45zM362.12 556.98h1.45v1.45h-1.45zM364.73 559.55h1.45v1.45h-1.45zM367.32 556.98h1.45v1.45h-1.45zM369.93 559.55h1.45v1.45h-1.45zM372.52 556.98h1.45v1.45h-1.45zM375.12 559.55h1.45v1.45h-1.45zM356.92 562.12h1.45v1.45h-1.45zM359.52 564.7h1.45v1.45h-1.45zM362.12 562.12h1.45v1.45h-1.45zM364.73 564.7h1.45v1.45h-1.45zM367.32 562.12h1.45v1.45h-1.45zM369.93 564.7h1.45v1.45h-1.45zM372.52 562.12h1.45v1.45h-1.45zM375.12 564.7h1.45v1.45h-1.45zM356.92 567.27h1.45v1.45h-1.45zM362.12 567.27h1.45v1.45h-1.45zM367.32 567.27h1.45v1.45h-1.45zM372.52 567.27h1.45v1.45h-1.45z"/>
<rect x="356.06" y="425.65" width="20.32" height="142.55" fill="none" stroke="#000" stroke-width="1.5"/>
<rect x="376.38" y="198" width="20.32" height="370.2" fill="#fff"/>
<path clip-path="url(#c15)" fill="#000" d="M376.38 184.99L396.7 202.78v5.1L376.38 190.09zM376.38 195.24L396.7 213.03v5.1L376.38 200.34zM376.38 205.49L396.7 223.28v5.1L376.38 210.59zM376.38 215.74L396.7 233.53v5.1L376.38 220.84zM376.38 225.99L396.7 243.78v5.1L376.38 231.09zM376.38 236.24L396.7 254.03v5.1L376.38 241.34zM376.38 246.49L396.7 264.28v5.1L376.38 251.59zM376.38 256.74L396.7 274.53v5.1L376.38 261.84zM376.38 266.99L396.7 284.78v5.1L376.38 272.09zM376.38 277.24L396.7 295.03v5.1L376.38 282.34zM376.38 287.49L396.7 305.28v5.1L376.38 292.59zM376.38 297.74L396.7 315.53v5.1L376.38 302.84zM376.38 307.99L396.7 325.78v5.1L376.38 313.09zM376.38 318.24L396.7 336.03v5.1L376.38 323.34zM376.38 328.49L396.7 346.28v5.1L376.38 333.59zM376.38 338.74L396.7 356.53v5.1L376.38 343.84zM376.38 348.99L396.7 366.78v5.1L376.38 354.09zM376.38 359.24L396.7 377.03v5.1L376.38 364.34zM376.38 369.49L396.7 387.28v5.1L376.38 374.59zM376.38 379.74L396.7 397.53v5.1L376.38 384.84zM376.38 389.99L396.7 407.78v5.1L376.38 395.09zM376.38 400.24L396.7 418.03v5.1L376.38 405.34zM376.38 410.49L396.7 428.28v5.1L376.38 415.59zM376.38 420.74L396.7 438.53v5.1L376.38 425.84zM376.38 430.99L396.7 448.78v5.1L376.38 436.09zM376.38 441.24L396.7 459.03v5.1L376.38 446.34zM376.38 451.49L396.7 469.28v5.1L376.38 456.59zM376.38 461.74L396.7 479.53v5.1L376.38 466.84zM376.38 471.99L396.7 489.78v5.1L376.38 477.09zM376.38 482.24L396.7 500.03v5.1L376.38 487.34zM376.38 492.49L396.7 510.28v5.1L376.38 497.59zM376.38 502.74L396.7 520.53v5.1L376.38 507.84zM376.38 512.99L396.7 530.78v5.1L376.38 518.09zM376.38 523.24L396.7 541.03v5.1L376.38 528.34zM376.38 533.49L396.7 551.28v5.1L376.38 538.59zM376.38 543.74L396.7 561.53v5.1L376.38 548.84zM376.38 553.99L396.7 571.78v5.1L376.38 559.09zM376.38 564.24L396.7 582.03v5.1L376.38 569.34z"/>
<rect x="376.38" y="198" width="20.32" height="370.2" fill="none" stroke="#000" stroke-width="1.5"/>
<rect x="406.8" y="428.9" width="20.6" height="139.3" fill="#fff" stroke="#000" stroke-width="1.5"/>
<rect x="427.4" y="277.3" width="20.6" height="290.9" fill="#000" stroke="#000" stroke-width="1.5"/>
<rect x="448" y="388.2" width="20.6" height="180" fill="#fff"/>
<path clip-path="url(#c18)" fill="#000" d="M450.34 386.45h2.3v2.3h-2.3zM454.1 387.6h2.3v2.3h-2.3zM460.49 386.45h2.3v2.3h-2.3zM464.25 387.6h2.3v2.3h-2.3zM446.55 395.4h2.3v2.3h-2.3zM448.9 390.2h2.3v2.3h-2.3zM455.54 391.35h2.3v2.3h-2.3zM451.5 392.8h2.3v2.3h-2.3zM456.7 395.4h2.3v2.3h-2.3zM450.34 396.55h2.3v2.3h-2.3zM454.1 397.7h2.3v2.3h-2.3zM459.05 390.2h2.3v2.3h-2.3zM465.69 391.35h2.3v2.3h-2.3zM461.65 392.8h2.3v2.3h-2.3zM466.85 395.4h2.3v2.3h-2.3zM460.49 396.55h2.3v2.3h-2.3zM464.25 397.7h2.3v2.3h-2.3zM446.55 405.5h2.3v2.3h-2.3zM448.9 400.3h2.3v2.3h-2.3zM455.54 401.45h2.3v2.3h-2.3zM451.5 402.9h2.3v2.3h-2.3zM456.7 405.5h2.3v2.3h-2.3zM450.34 406.65h2.3v2.3h-2.3zM454.1 407.8h2.3v2.3h-2.3zM459.05 400.3h2.3v2.3h-2.3zM465.69 401.45h2.3v2.3h-2.3zM461.65 402.9h2.3v2.3h-2.3zM466.85 405.5h2.3v2.3h-2.3zM460.49 406.65h2.3v2.3h-2.3zM464.25 407.8h2.3v2.3h-2.3zM446.55 415.6h2.3v2.3h-2.3zM448.9 410.4h2.3v2.3h-2.3zM455.54 411.55h2.3v2.3h-2.3zM451.5 413h2.3v2.3h-2.3zM456.7 415.6h2.3v2.3h-2.3zM450.34 416.75h2.3v2.3h-2.3zM454.1 417.9h2.3v2.3h-2.3zM459.05 410.4h2.3v2.3h-2.3zM465.69 411.55h2.3v2.3h-2.3zM461.65 413h2.3v2.3h-2.3zM466.85 415.6h2.3v2.3h-2.3zM460.49 416.75h2.3v2.3h-2.3zM464.25 417.9h2.3v2.3h-2.3zM446.55 425.7h2.3v2.3h-2.3zM448.9 420.5h2.3v2.3h-2.3zM455.54 421.65h2.3v2.3h-2.3zM451.5 423.1h2.3v2.3h-2.3zM456.7 425.7h2.3v2.3h-2.3zM450.34 426.85h2.3v2.3h-2.3zM454.1 428h2.3v2.3h-2.3zM459.05 420.5h2.3v2.3h-2.3zM465.69 421.65h2.3v2.3h-2.3zM461.65 423.1h2.3v2.3h-2.3zM466.85 425.7h2.3v2.3h-2.3zM460.49 426.85h2.3v2.3h-2.3zM464.25 428h2.3v2.3h-2.3zM446.55 435.8h2.3v2.3h-2.3zM448.9 430.6h2.3v2.3h-2.3zM455.54 431.75h2.3v2.3h-2.3zM451.5 433.2h2.3v2.3h-2.3zM456.7 435.8h2.3v2.3h-2.3zM450.34 436.95h2.3v2.3h-2.3zM454.1 438.1h2.3v2.3h-2.3zM459.05 430.6h2.3v2.3h-2.3zM465.69 431.75h2.3v2.3h-2.3zM461.65 433.2h2.3v2.3h-2.3zM466.85 435.8h2.3v2.3h-2.3zM460.49 436.95h2.3v2.3h-2.3zM464.25 438.1h2.3v2.3h-2.3zM446.55 445.9h2.3v2.3h-2.3zM448.9 440.7h2.3v2.3h-2.3zM455.54 441.85h2.3v2.3h-2.3zM451.5 443.3h2.3v2.3h-2.3zM456.7 445.9h2.3v2.3h-2.3zM450.34 447.05h2.3v2.3h-2.3zM454.1 448.2h2.3v2.3h-2.3zM459.05 440.7h2.3v2.3h-2.3zM465.69 441.85h2.3v2.3h-2.3zM461.65 443.3h2.3v2.3h-2.3zM466.85 445.9h2.3v2.3h-2.3zM460.49 447.05h2.3v2.3h-2.3zM464.25 448.2h2.3v2.3h-2.3zM446.55 456h2.3v2.3h-2.3zM448.9 450.8h2.3v2.3h-2.3zM455.54 451.95h2.3v2.3h-2.3zM451.5 453.4h2.3v2.3h-2.3zM456.7 456h2.3v2.3h-2.3zM450.34 457.15h2.3v2.3h-2.3zM454.1 458.3h2.3v2.3h-2.3zM459.05 450.8h2.3v2.3h-2.3zM465.69 451.95h2.3v2.3h-2.3zM461.65 453.4h2.3v2.3h-2.3zM466.85 456h2.3v2.3h-2.3zM460.49 457.15h2.3v2.3h-2.3zM464.25 458.3h2.3v2.3h-2.3zM446.55 466.1h2.3v2.3h-2.3zM448.9 460.9h2.3v2.3h-2.3zM455.54 462.05h2.3v2.3h-2.3zM451.5 463.5h2.3v2.3h-2.3zM456.7 466.1h2.3v2.3h-2.3zM450.34 467.25h2.3v2.3h-2.3zM454.1 468.4h2.3v2.3h-2.3zM459.05 460.9h2.3v2.3h-2.3zM465.69 462.05h2.3v2.3h-2.3zM461.65 463.5h2.3v2.3h-2.3zM466.85 466.1h2.3v2.3h-2.3zM460.49 467.25h2.3v2.3h-2.3zM464.25 468.4h2.3v2.3h-2.3zM446.55 476.2h2.3v2.3h-2.3zM448.9 471h2.3v2.3h-2.3zM455.54 472.15h2.3v2.3h-2.3zM451.5 473.6h2.3v2.3h-2.3zM456.7 476.2h2.3v2.3h-2.3zM450.34 477.35h2.3v2.3h-2.3zM454.1 478.5h2.3v2.3h-2.3zM459.05 471h2.3v2.3h-2.3zM465.69 472.15h2.3v2.3h-2.3zM461.65 473.6h2.3v2.3h-2.3zM466.85 476.2h2.3v2.3h-2.3zM460.49 477.35h2.3v2.3h-2.3zM464.25 478.5h2.3v2.3h-2.3zM446.55 486.3h2.3v2.3h-2.3zM448.9 481.1h2.3v2.3h-2.3zM455.54 482.25h2.3v2.3h-2.3zM451.5 483.7h2.3v2.3h-2.3zM456.7 486.3h2.3v2.3h-2.3zM450.34 487.45h2.3v2.3h-2.3zM454.1 488.6h2.3v2.3h-2.3zM459.05 481.1h2.3v2.3h-2.3zM465.69 482.25h2.3v2.3h-2.3zM461.65 483.7h2.3v2.3h-2.3zM466.85 486.3h2.3v2.3h-2.3zM460.49 487.45h2.3v2.3h-2.3zM464.25 488.6h2.3v2.3h-2.3zM446.55 496.4h2.3v2.3h-2.3zM448.9 491.2h2.3v2.3h-2.3zM455.54 492.35h2.3v2.3h-2.3zM451.5 493.8h2.3v2.3h-2.3zM456.7 496.4h2.3v2.3h-2.3zM450.34 497.55h2.3v2.3h-2.3zM454.1 498.7h2.3v2.3h-2.3zM459.05 491.2h2.3v2.3h-2.3zM465.69 492.35h2.3v2.3h-2.3zM461.65 493.8h2.3v2.3h-2.3zM466.85 496.4h2.3v2.3h-2.3zM460.49 497.55h2.3v2.3h-2.3zM464.25 498.7h2.3v2.3h-2.3zM446.55 506.5h2.3v2.3h-2.3zM448.9 501.3h2.3v2.3h-2.3zM455.54 502.45h2.3v2.3h-2.3zM451.5 503.9h2.3v2.3h-2.3zM456.7 506.5h2.3v2.3h-2.3zM450.34 507.65h2.3v2.3h-2.3zM454.1 508.8h2.3v2.3h-2.3zM459.05 501.3h2.3v2.3h-2.3zM465.69 502.45h2.3v2.3h-2.3zM461.65 503.9h2.3v2.3h-2.3zM466.85 506.5h2.3v2.3h-2.3zM460.49 507.65h2.3v2.3h-2.3zM464.25 508.8h2.3v2.3h-2.3zM446.55 516.6h2.3v2.3h-2.3zM448.9 511.4h2.3v2.3h-2.3zM455.54 512.55h2.3v2.3h-2.3zM451.5 514h2.3v2.3h-2.3zM456.7 516.6h2.3v2.3h-2.3zM450.34 517.75h2.3v2.3h-2.3zM454.1 518.9h2.3v2.3h-2.3zM459.05 511.4h2.3v2.3h-2.3zM465.69 512.55h2.3v2.3h-2.3zM461.65 514h2.3v2.3h-2.3zM466.85 516.6h2.3v2.3h-2.3zM460.49 517.75h2.3v2.3h-2.3zM464.25 518.9h2.3v2.3h-2.3zM446.55 526.7h2.3v2.3h-2.3zM448.9 521.5h2.3v2.3h-2.3zM455.54 522.65h2.3v2.3h-2.3zM451.5 524.1h2.3v2.3h-2.3zM456.7 526.7h2.3v2.3h-2.3zM450.34 527.85h2.3v2.3h-2.3zM454.1 529h2.3v2.3h-2.3zM459.05 521.5h2.3v2.3h-2.3zM465.69 522.65h2.3v2.3h-2.3zM461.65 524.1h2.3v2.3h-2.3zM466.85 526.7h2.3v2.3h-2.3zM460.49 527.85h2.3v2.3h-2.3zM464.25 529h2.3v2.3h-2.3zM446.55 536.8h2.3v2.3h-2.3zM448.9 531.6h2.3v2.3h-2.3zM455.54 532.75h2.3v2.3h-2.3zM451.5 534.2h2.3v2.3h-2.3zM456.7 536.8h2.3v2.3h-2.3zM450.34 537.95h2.3v2.3h-2.3zM454.1 539.1h2.3v2.3h-2.3zM459.05 531.6h2.3v2.3h-2.3zM465.69 532.75h2.3v2.3h-2.3zM461.65 534.2h2.3v2.3h-2.3zM466.85 536.8h2.3v2.3h-2.3zM460.49 537.95h2.3v2.3h-2.3zM464.25 539.1h2.3v2.3h-2.3zM446.55 546.9h2.3v2.3h-2.3zM448.9 541.7h2.3v2.3h-2.3zM455.54 542.85h2.3v2.3h-2.3zM451.5 544.3h2.3v2.3h-2.3zM456.7 546.9h2.3v2.3h-2.3zM450.34 548.05h2.3v2.3h-2.3zM454.1 549.2h2.3v2.3h-2.3zM459.05 541.7h2.3v2.3h-2.3zM465.69 542.85h2.3v2.3h-2.3zM461.65 544.3h2.3v2.3h-2.3zM466.85 546.9h2.3v2.3h-2.3zM460.49 548.05h2.3v2.3h-2.3zM464.25 549.2h2.3v2.3h-2.3zM446.55 557h2.3v2.3h-2.3zM448.9 551.8h2.3v2.3h-2.3zM455.54 552.95h2.3v2.3h-2.3zM451.5 554.4h2.3v2.3h-2.3zM456.7 557h2.3v2.3h-2.3zM450.34 558.15h2.3v2.3h-2.3zM454.1 559.3h2.3v2.3h-2.3zM459.05 551.8h2.3v2.3h-2.3zM465.69 552.95h2.3v2.3h-2.3zM461.65 554.4h2.3v2.3h-2.3zM466.85 557h2.3v2.3h-2.3zM460.49 558.15h2.3v2.3h-2.3zM464.25 559.3h2.3v2.3h-2.3zM446.55 567.1h2.3v2.3h-2.3zM448.9 561.9h2.3v2.3h-2.3zM455.54 563.05h2.3v2.3h-2.3zM451.5 564.5h2.3v2.3h-2.3zM456.7 567.1h2.3v2.3h-2.3zM459.05 561.9h2.3v2.3h-2.3zM465.69 563.05h2.3v2.3h-2.3zM461.65 564.5h2.3v2.3h-2.3zM466.85 567.1h2.3v2.3h-2.3z"/>
<rect x="448" y="388.2" width="20.6" height="180" fill="none" stroke="#000" stroke-width="1.5"/>
<rect x="468.6" y="398.3" width="20.6" height="169.9" fill="#fff"/>
<path clip-path="url(#c19)" fill="#000" d="M468.73 399.9h1.45v1.45h-1.45zM471.32 397.32h1.45v1.45h-1.45zM473.93 399.9h1.45v1.45h-1.45zM476.52 397.32h1.45v1.45h-1.45zM479.12 399.9h1.45v1.45h-1.45zM481.72 397.32h1.45v1.45h-1.45zM484.32 399.9h1.45v1.45h-1.45zM486.93 397.32h1.45v1.45h-1.45zM468.73 405.05h1.45v1.45h-1.45zM471.32 402.48h1.45v1.45h-1.45zM473.93 405.05h1.45v1.45h-1.45zM476.52 402.48h1.45v1.45h-1.45zM479.12 405.05h1.45v1.45h-1.45zM481.72 402.48h1.45v1.45h-1.45zM484.32 405.05h1.45v1.45h-1.45zM486.93 402.48h1.45v1.45h-1.45zM468.73 410.2h1.45v1.45h-1.45zM471.32 407.62h1.45v1.45h-1.45zM473.93 410.2h1.45v1.45h-1.45zM476.52 407.62h1.45v1.45h-1.45zM479.12 410.2h1.45v1.45h-1.45zM481.72 407.62h1.45v1.45h-1.45zM484.32 410.2h1.45v1.45h-1.45zM486.93 407.62h1.45v1.45h-1.45zM468.73 415.35h1.45v1.45h-1.45zM471.32 412.77h1.45v1.45h-1.45zM473.93 415.35h1.45v1.45h-1.45zM476.52 412.77h1.45v1.45h-1.45zM479.12 415.35h1.45v1.45h-1.45zM481.72 412.77h1.45v1.45h-1.45zM484.32 415.35h1.45v1.45h-1.45zM486.93 412.77h1.45v1.45h-1.45zM468.73 420.5h1.45v1.45h-1.45zM471.32 417.93h1.45v1.45h-1.45zM473.93 420.5h1.45v1.45h-1.45zM476.52 417.93h1.45v1.45h-1.45zM479.12 420.5h1.45v1.45h-1.45zM481.72 417.93h1.45v1.45h-1.45zM484.32 420.5h1.45v1.45h-1.45zM486.93 417.93h1.45v1.45h-1.45zM468.73 425.65h1.45v1.45h-1.45zM471.32 423.07h1.45v1.45h-1.45zM473.93 425.65h1.45v1.45h-1.45zM476.52 423.07h1.45v1.45h-1.45zM479.12 425.65h1.45v1.45h-1.45zM481.72 423.07h1.45v1.45h-1.45zM484.32 425.65h1.45v1.45h-1.45zM486.93 423.07h1.45v1.45h-1.45zM468.73 430.8h1.45v1.45h-1.45zM471.32 428.23h1.45v1.45h-1.45zM473.93 430.8h1.45v1.45h-1.45zM476.52 428.23h1.45v1.45h-1.45zM479.12 430.8h1.45v1.45h-1.45zM481.72 428.23h1.45v1.45h-1.45zM484.32 430.8h1.45v1.45h-1.45zM486.93 428.23h1.45v1.45h-1.45zM468.73 435.95h1.45v1.45h-1.45zM471.32 433.38h1.45v1.45h-1.45zM473.93 435.95h1.45v1.45h-1.45zM476.52 433.38h1.45v1.45h-1.45zM479.12 435.95h1.45v1.45h-1.45zM481.72 433.38h1.45v1.45h-1.45zM484.32 435.95h1.45v1.45h-1.45zM486.93 433.38h1.45v1.45h-1.45zM468.73 441.1h1.45v1.45h-1.45zM471.32 438.52h1.45v1.45h-1.45zM473.93 441.1h1.45v1.45h-1.45zM476.52 438.52h1.45v1.45h-1.45zM479.12 441.1h1.45v1.45h-1.45zM481.72 438.52h1.45v1.45h-1.45zM484.32 441.1h1.45v1.45h-1.45zM486.93 438.52h1.45v1.45h-1.45zM468.73 446.25h1.45v1.45h-1.45zM471.32 443.68h1.45v1.45h-1.45zM473.93 446.25h1.45v1.45h-1.45zM476.52 443.68h1.45v1.45h-1.45zM479.12 446.25h1.45v1.45h-1.45zM481.72 443.68h1.45v1.45h-1.45zM484.32 446.25h1.45v1.45h-1.45zM486.93 443.68h1.45v1.45h-1.45zM468.73 451.4h1.45v1.45h-1.45zM471.32 448.82h1.45v1.45h-1.45zM473.93 451.4h1.45v1.45h-1.45zM476.52 448.82h1.45v1.45h-1.45zM479.12 451.4h1.45v1.45h-1.45zM481.72 448.82h1.45v1.45h-1.45zM484.32 451.4h1.45v1.45h-1.45zM486.93 448.82h1.45v1.45h-1.45zM468.73 456.55h1.45v1.45h-1.45zM471.32 453.98h1.45v1.45h-1.45zM473.93 456.55h1.45v1.45h-1.45zM476.52 453.98h1.45v1.45h-1.45zM479.12 456.55h1.45v1.45h-1.45zM481.72 453.98h1.45v1.45h-1.45zM484.32 456.55h1.45v1.45h-1.45zM486.93 453.98h1.45v1.45h-1.45zM468.73 461.7h1.45v1.45h-1.45zM471.32 459.12h1.45v1.45h-1.45zM473.93 461.7h1.45v1.45h-1.45zM476.52 459.12h1.45v1.45h-1.45zM479.12 461.7h1.45v1.45h-1.45zM481.72 459.12h1.45v1.45h-1.45zM484.32 461.7h1.45v1.45h-1.45zM486.93 459.12h1.45v1.45h-1.45zM468.73 466.85h1.45v1.45h-1.45zM471.32 464.27h1.45v1.45h-1.45zM473.93 466.85h1.45v1.45h-1.45zM476.52 464.27h1.45v1.45h-1.45zM479.12 466.85h1.45v1.45h-1.45zM481.72 464.27h1.45v1.45h-1.45zM484.32 466.85h1.45v1.45h-1.45zM486.93 464.27h1.45v1.45h-1.45zM468.73 472h1.45v1.45h-1.45zM471.32 469.43h1.45v1.45h-1.45zM473.93 472h1.45v1.45h-1.45zM476.52 469.43h1.45v1.45h-1.45zM479.12 472h1.45v1.45h-1.45zM481.72 469.43h1.45v1.45h-1.45zM484.32 472h1.45v1.45h-1.45zM486.93 469.43h1.45v1.45h-1.45zM468.73 477.15h1.45v1.45h-1.45zM471.32 474.57h1.45v1.45h-1.45zM473.93 477.15h1.45v1.45h-1.45zM476.52 474.57h1.45v1.45h-1.45zM479.12 477.15h1.45v1.45h-1.45zM481.72 474.57h1.45v1.45h-1.45zM484.32 477.15h1.45v1.45h-1.45zM486.93 474.57h1.45v1.45h-1.45zM468.73 482.3h1.45v1.45h-1.45zM471.32 479.73h1.45v1.45h-1.45zM473.93 482.3h1.45v1.45h-1.45zM476.52 479.73h1.45v1.45h-1.45zM479.12 482.3h1.45v1.45h-1.45zM481.72 479.73h1.45v1.45h-1.45zM484.32 482.3h1.45v1.45h-1.45zM486.93 479.73h1.45v1.45h-1.45zM468.73 487.45h1.45v1.45h-1.45zM471.32 484.88h1.45v1.45h-1.45zM473.93 487.45h1.45v1.45h-1.45zM476.52 484.88h1.45v1.45h-1.45zM479.12 487.45h1.45v1.45h-1.45zM481.72 484.88h1.45v1.45h-1.45zM484.32 487.45h1.45v1.45h-1.45zM486.93 484.88h1.45v1.45h-1.45zM468.73 492.6h1.45v1.45h-1.45zM471.32 490.02h1.45v1.45h-1.45zM473.93 492.6h1.45v1.45h-1.45zM476.52 490.02h1.45v1.45h-1.45zM479.12 492.6h1.45v1.45h-1.45zM481.72 490.02h1.45v1.45h-1.45zM484.32 492.6h1.45v1.45h-1.45zM486.93 490.02h1.45v1.45h-1.45zM468.73 497.75h1.45v1.45h-1.45zM471.32 495.18h1.45v1.45h-1.45zM473.93 497.75h1.45v1.45h-1.45zM476.52 495.18h1.45v1.45h-1.45zM479.12 497.75h1.45v1.45h-1.45zM481.72 495.18h1.45v1.45h-1.45zM484.32 497.75h1.45v1.45h-1.45zM486.93 495.18h1.45v1.45h-1.45zM468.73 502.9h1.45v1.45h-1.45zM471.32 500.32h1.45v1.45h-1.45zM473.93 502.9h1.45v1.45h-1.45zM476.52 500.32h1.45v1.45h-1.45zM479.12 502.9h1.45v1.45h-1.45zM481.72 500.32h1.45v1.45h-1.45zM484.32 502.9h1.45v1.45h-1.45zM486.93 500.32h1.45v1.45h-1.45zM468.73 508.05h1.45v1.45h-1.45zM471.32 505.48h1.45v1.45h-1.45zM473.93 508.05h1.45v1.45h-1.45zM476.52 505.48h1.45v1.45h-1.45zM479.12 508.05h1.45v1.45h-1.45zM481.72 505.48h1.45v1.45h-1.45zM484.32 508.05h1.45v1.45h-1.45zM486.93 505.48h1.45v1.45h-1.45zM468.73 513.2h1.45v1.45h-1.45zM471.32 510.62h1.45v1.45h-1.45zM473.93 513.2h1.45v1.45h-1.45zM476.52 510.62h1.45v1.45h-1.45zM479.12 513.2h1.45v1.45h-1.45zM481.72 510.62h1.45v1.45h-1.45zM484.32 513.2h1.45v1.45h-1.45zM486.93 510.62h1.45v1.45h-1.45zM468.73 518.35h1.45v1.45h-1.45zM471.32 515.77h1.45v1.45h-1.45zM473.93 518.35h1.45v1.45h-1.45zM476.52 515.77h1.45v1.45h-1.45zM479.12 518.35h1.45v1.45h-1.45zM481.72 515.77h1.45v1.45h-1.45zM484.32 518.35h1.45v1.45h-1.45zM486.93 515.77h1.45v1.45h-1.45zM468.73 523.5h1.45v1.45h-1.45zM471.32 520.93h1.45v1.45h-1.45zM473.93 523.5h1.45v1.45h-1.45zM476.52 520.93h1.45v1.45h-1.45zM479.12 523.5h1.45v1.45h-1.45zM481.72 520.93h1.45v1.45h-1.45zM484.32 523.5h1.45v1.45h-1.45zM486.93 520.93h1.45v1.45h-1.45zM468.73 528.65h1.45v1.45h-1.45zM471.32 526.08h1.45v1.45h-1.45zM473.93 528.65h1.45v1.45h-1.45zM476.52 526.08h1.45v1.45h-1.45zM479.12 528.65h1.45v1.45h-1.45zM481.72 526.08h1.45v1.45h-1.45zM484.32 528.65h1.45v1.45h-1.45zM486.93 526.08h1.45v1.45h-1.45zM468.73 533.8h1.45v1.45h-1.45zM471.32 531.23h1.45v1.45h-1.45zM473.93 533.8h1.45v1.45h-1.45zM476.52 531.23h1.45v1.45h-1.45zM479.12 533.8h1.45v1.45h-1.45zM481.72 531.23h1.45v1.45h-1.45zM484.32 533.8h1.45v1.45h-1.45zM486.93 531.23h1.45v1.45h-1.45zM468.73 538.95h1.45v1.45h-1.45zM471.32 536.38h1.45v1.45h-1.45zM473.93 538.95h1.45v1.45h-1.45zM476.52 536.38h1.45v1.45h-1.45zM479.12 538.95h1.45v1.45h-1.45zM481.72 536.38h1.45v1.45h-1.45zM484.32 538.95h1.45v1.45h-1.45zM486.93 536.38h1.45v1.45h-1.45zM468.73 544.1h1.45v1.45h-1.45zM471.32 541.52h1.45v1.45h-1.45zM473.93 544.1h1.45v1.45h-1.45zM476.52 541.52h1.45v1.45h-1.45zM479.12 544.1h1.45v1.45h-1.45zM481.72 541.52h1.45v1.45h-1.45zM484.32 544.1h1.45v1.45h-1.45zM486.93 541.52h1.45v1.45h-1.45zM468.73 549.25h1.45v1.45h-1.45zM471.32 546.68h1.45v1.45h-1.45zM473.93 549.25h1.45v1.45h-1.45zM476.52 546.68h1.45v1.45h-1.45zM479.12 549.25h1.45v1.45h-1.45zM481.72 546.68h1.45v1.45h-1.45zM484.32 549.25h1.45v1.45h-1.45zM486.93 546.68h1.45v1.45h-1.45zM468.73 554.4h1.45v1.45h-1.45zM471.32 551.83h1.45v1.45h-1.45zM473.93 554.4h1.45v1.45h-1.45zM476.52 551.83h1.45v1.45h-1.45zM479.12 554.4h1.45v1.45h-1.45zM481.72 551.83h1.45v1.45h-1.45zM484.32 554.4h1.45v1.45h-1.45zM486.93 551.83h1.45v1.45h-1.45zM468.73 559.55h1.45v1.45h-1.45zM471.32 556.98h1.45v1.45h-1.45zM473.93 559.55h1.45v1.45h-1.45zM476.52 556.98h1.45v1.45h-1.45zM479.12 559.55h1.45v1.45h-1.45zM481.72 556.98h1.45v1.45h-1.45zM484.32 559.55h1.45v1.45h-1.45zM486.93 556.98h1.45v1.45h-1.45zM468.73 564.7h1.45v1.45h-1.45zM471.32 562.12h1.45v1.45h-1.45zM473.93 564.7h1.45v1.45h-1.45zM476.52 562.12h1.45v1.45h-1.45zM479.12 564.7h1.45v1.45h-1.45zM481.72 562.12h1.45v1.45h-1.45zM484.32 564.7h1.45v1.45h-1.45zM486.93 562.12h1.45v1.45h-1.45zM471.32 567.27h1.45v1.45h-1.45zM476.52 567.27h1.45v1.45h-1.45zM481.72 567.27h1.45v1.45h-1.45zM486.93 567.27h1.45v1.45h-1.45z"/>
<rect x="468.6" y="398.3" width="20.6" height="169.9" fill="none" stroke="#000" stroke-width="1.5"/>
<rect x="489.2" y="292.9" width="20.6" height="275.3" fill="#fff"/>
<path clip-path="url(#c20)" fill="#000" d="M489.2 275.9L509.8 293.93v5.1L489.2 281zM489.2 286.15L509.8 304.18v5.1L489.2 291.25zM489.2 296.4L509.8 314.43v5.1L489.2 301.5zM489.2 306.65L509.8 324.68v5.1L489.2 311.75zM489.2 316.9L509.8 334.93v5.1L489.2 322zM489.2 327.15L509.8 345.18v5.1L489.2 332.25zM489.2 337.4L509.8 355.43v5.1L489.2 342.5zM489.2 347.65L509.8 365.68v5.1L489.2 352.75zM489.2 357.9L509.8 375.93v5.1L489.2 363zM489.2 368.15L509.8 386.18v5.1L489.2 373.25zM489.2 378.4L509.8 396.43v5.1L489.2 383.5zM489.2 388.65L509.8 406.68v5.1L489.2 393.75zM489.2 398.9L509.8 416.93v5.1L489.2 404zM489.2 409.15L509.8 427.18v5.1L489.2 414.25zM489.2 419.4L509.8 437.43v5.1L489.2 424.5zM489.2 429.65L509.8 447.68v5.1L489.2 434.75zM489.2 439.9L509.8 457.93v5.1L489.2 445zM489.2 450.15L509.8 468.18v5.1L489.2 455.25zM489.2 460.4L509.8 478.43v5.1L489.2 465.5zM489.2 470.65L509.8 488.68v5.1L489.2 475.75zM489.2 480.9L509.8 498.93v5.1L489.2 486zM489.2 491.15L509.8 509.18v5.1L489.2 496.25zM489.2 501.4L509.8 519.43v5.1L489.2 506.5zM489.2 511.65L509.8 529.68v5.1L489.2 516.75zM489.2 521.9L509.8 539.93v5.1L489.2 527zM489.2 532.15L509.8 550.18v5.1L489.2 537.25zM489.2 542.4L509.8 560.43v5.1L489.2 547.5zM489.2 552.65L509.8 570.68v5.1L489.2 557.75zM489.2 562.9L509.8 580.93v5.1L489.2 568z"/>
<rect x="489.2" y="292.9" width="20.6" height="275.3" fill="none" stroke="#000" stroke-width="1.5"/>
<line x1="58.8" y1="568.20" x2="66" y2="568.20" stroke="#000" stroke-width="1.2"/>
<line x1="58.8" y1="456.16" x2="66" y2="456.16" stroke="#000" stroke-width="1.2"/>
<line x1="58.8" y1="344.12" x2="66" y2="344.12" stroke="#000" stroke-width="1.2"/>
<line x1="58.8" y1="232.08" x2="66" y2="232.08" stroke="#000" stroke-width="1.2"/>
<line x1="58.8" y1="120.04" x2="66" y2="120.04" stroke="#000" stroke-width="1.2"/>
<line x1="58.8" y1="8.00" x2="66" y2="8.00" stroke="#000" stroke-width="1.2"/>
<line x1="122.0" y1="568.2" x2="122.0" y2="574.7" stroke="#000" stroke-width="1.2"/>
<line x1="234.3" y1="568.2" x2="234.3" y2="574.7" stroke="#000" stroke-width="1.2"/>
<line x1="345.5" y1="568.2" x2="345.5" y2="574.7" stroke="#000" stroke-width="1.2"/>
<line x1="458.0" y1="568.2" x2="458.0" y2="574.7" stroke="#000" stroke-width="1.2"/>
</g>
<g transform="matrix(1,-0.0024,0.0025,1,-0.05,0.03)">
<rect x="96" y="19.5" width="206.8" height="165.6" fill="#fff" stroke="#000" stroke-width="1.3"/>
<rect x="106.95" y="32.24" width="13" height="13" fill="#fff" stroke="#000" stroke-width="1.7"/>
<text x="137.2" y="43.39" font-size="15.55">Control 16h</text>
<rect x="106.95" y="64.09" width="13" height="13" fill="#000" stroke="#000" stroke-width="1.7"/>
<text x="137.2" y="75.24" font-size="15.55">anti-IgM</text>
<rect x="106.95" y="95.94" width="13" height="13" fill="#fff"/>
<path clip-path="url(#c23)" fill="#000" d="M109 94.7h2.3v2.3h-2.3zM119.15 94.7h2.3v2.3h-2.3zM110.44 98.45h2.3v2.3h-2.3zM106.4 99.9h2.3v2.3h-2.3zM111.6 102.5h2.3v2.3h-2.3zM105.24 103.65h2.3v2.3h-2.3zM109 104.8h2.3v2.3h-2.3zM113.95 97.3h2.3v2.3h-2.3zM116.55 99.9h2.3v2.3h-2.3zM115.39 103.65h2.3v2.3h-2.3zM119.15 104.8h2.3v2.3h-2.3zM110.44 108.55h2.3v2.3h-2.3zM113.95 107.4h2.3v2.3h-2.3z"/>
<rect x="106.95" y="95.94" width="13" height="13" fill="none" stroke="#000" stroke-width="1.7"/>
<text x="137.2" y="107.09" font-size="15.55">anti-IgM + IOR-T1</text>
<rect x="106.95" y="127.79" width="13" height="13" fill="#fff"/>
<path clip-path="url(#c24)" fill="#000" d="M109.92 126.95h1.45v1.45h-1.45zM115.12 126.95h1.45v1.45h-1.45zM107.33 129.53h1.45v1.45h-1.45zM109.92 132.1h1.45v1.45h-1.45zM112.53 129.53h1.45v1.45h-1.45zM115.12 132.1h1.45v1.45h-1.45zM117.73 129.53h1.45v1.45h-1.45zM107.33 134.68h1.45v1.45h-1.45zM109.92 137.25h1.45v1.45h-1.45zM112.53 134.68h1.45v1.45h-1.45zM115.12 137.25h1.45v1.45h-1.45zM117.73 134.68h1.45v1.45h-1.45zM107.33 139.83h1.45v1.45h-1.45zM112.53 139.83h1.45v1.45h-1.45zM117.73 139.83h1.45v1.45h-1.45z"/>
<rect x="106.95" y="127.79" width="13" height="13" fill="none" stroke="#000" stroke-width="1.7"/>
<text x="137.2" y="138.94" font-size="15.55">mouse IgG1 + IOR-T1</text>
<rect x="106.95" y="159.64" width="13" height="13" fill="#fff"/>
<path clip-path="url(#c25)" fill="#000" d="M106.95 147.65L119.95 159.03v5.1L106.95 152.75zM106.95 157.9L119.95 169.28v5.1L106.95 163zM106.95 168.15L119.95 179.53v5.1L106.95 173.25z"/>
<rect x="106.95" y="159.64" width="13" height="13" fill="none" stroke="#000" stroke-width="1.7"/>
<text x="137.2" y="170.79" font-size="15.55">anti-IgM + mouse IgG2a</text>
</g>
<text x="57.38" y="575.10" text-anchor="end" font-size="18.8">0</text>
<text x="56.95" y="463.06" text-anchor="end" font-size="18.8">10</text>
<text x="56.51" y="351.02" text-anchor="end" font-size="18.8">20</text>
<text x="56.07" y="238.98" text-anchor="end" font-size="18.8">30</text>
<text x="55.64" y="126.94" text-anchor="end" font-size="18.8">40</text>
<text x="55.20" y="14.90" text-anchor="end" font-size="18.8">50</text>
<text x="124.2" y="595.2" text-anchor="middle" font-size="23.6">L-213</text>
<text x="237.0" y="595.2" text-anchor="middle" font-size="23.6">L-84</text>
<text x="347.7" y="595.2" text-anchor="middle" font-size="23.6">L-214</text>
<text x="458.8" y="595.2" text-anchor="middle" font-size="23.6">L-222</text>
<text transform="translate(15.3,399.4) rotate(-90)" font-size="18.8">Percentage of apoptotic nuclei</text>
</svg>
</body></html>
